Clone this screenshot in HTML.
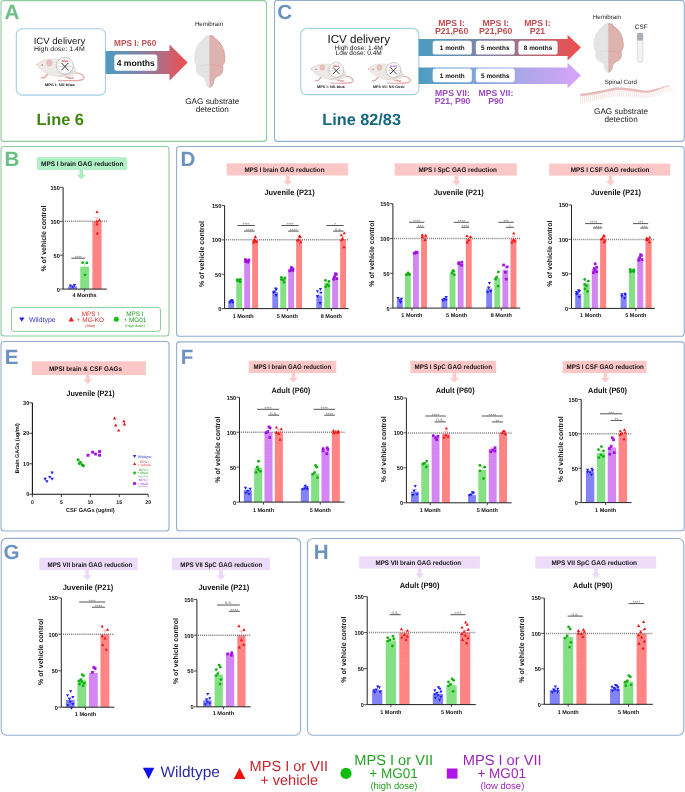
<!DOCTYPE html><html><head><meta charset="utf-8"><style>html,body{margin:0;padding:0;background:#fff;overflow:hidden;width:685px;height:792px;}svg{display:block;will-change:transform;}text{font-family:"Liberation Sans",sans-serif;text-rendering:geometricPrecision;}</style></head><body>
<svg width="685" height="792" viewBox="0 0 685 792">
<rect width="685" height="792" fill="#fff"/>
<defs><pattern id="ptb" width="2.6" height="2.6" patternUnits="userSpaceOnUse"><rect width="2.6" height="2.6" fill="#7a7af5"/><rect x="0.2" y="0.2" width="0.9" height="0.9" fill="#fff" opacity="0.32"/><rect x="1.5" y="1.5" width="0.9" height="0.9" fill="#fff" opacity="0.22"/></pattern><pattern id="ptg" width="2.6" height="2.6" patternUnits="userSpaceOnUse"><rect width="2.6" height="2.6" fill="#7cde7c"/><rect x="0.2" y="0.2" width="0.9" height="0.9" fill="#fff" opacity="0.32"/><rect x="1.5" y="1.5" width="0.9" height="0.9" fill="#fff" opacity="0.22"/></pattern><pattern id="ptp" width="2.6" height="2.6" patternUnits="userSpaceOnUse"><rect width="2.6" height="2.6" fill="#d07ef2"/><rect x="0.2" y="0.2" width="0.9" height="0.9" fill="#fff" opacity="0.32"/><rect x="1.5" y="1.5" width="0.9" height="0.9" fill="#fff" opacity="0.22"/></pattern><pattern id="ptr" width="2.6" height="2.6" patternUnits="userSpaceOnUse"><rect width="2.6" height="2.6" fill="#ff7c7c"/><rect x="0.2" y="0.2" width="0.9" height="0.9" fill="#fff" opacity="0.32"/><rect x="1.5" y="1.5" width="0.9" height="0.9" fill="#fff" opacity="0.22"/></pattern></defs>
<rect x="1" y="0.6" width="265.5" height="140.8" rx="3" fill="none" stroke="#8fcb9b" stroke-width="1.1"/>
<text x="4.5" y="19.1" font-size="20.6" font-weight="bold" fill="#6dbe83" text-anchor="start">A</text>
<rect x="16.3" y="28.7" width="89.2" height="66.4" rx="6" fill="#fff" stroke="#a2cee3" stroke-width="1.1"/>
<text x="59.5" y="44" font-size="9.2" fill="#111" text-anchor="middle" textLength="51.6" lengthAdjust="spacingAndGlyphs">ICV delivery</text>
<text x="59.4" y="50.9" font-size="6.7" fill="#222" text-anchor="middle" textLength="50.8" lengthAdjust="spacingAndGlyphs">High dose: 1.4M</text>
<g transform="translate(36.3,57.8) scale(1)">
<path d="M37,15.2 C44,14.6 48.8,17.8 47.6,20.6 C46.4,23.2 39,23.2 22,22.6" fill="none" stroke="#e2a6a6" stroke-width="1.15" stroke-linecap="round"/>
<path d="M11.5,16.2 L8.2,19.6 L5.2,20.1" fill="none" stroke="#e2a6a6" stroke-width="1.5" stroke-linecap="round" stroke-linejoin="round"/>
<path d="M27.5,17.5 C30,19.8 33,20.8 37,20.3" fill="none" stroke="#e2a6a6" stroke-width="1.6" stroke-linecap="round"/>
<path d="M0.3,6.6 C2,4.5 6,2 11,1.6 C17,0.5 27,1.5 33,5 C38,8 40.5,12 39,15.5 C37,18.5 30,19.5 22,18.8 C15,18 10,16 6,12.5 C3.5,10.5 1,8.5 0.3,6.6 Z" fill="#ece9e7" stroke="#d6cecb" stroke-width="0.5"/>
<path d="M22,18.6 C28,17.5 34,16 38.6,13" fill="none" stroke="#ddd3cf" stroke-width="1.2"/>
<ellipse cx="13" cy="5.2" rx="2.7" ry="3.1" fill="#e6c2bf" stroke="#d6a8a4" stroke-width="0.45"/>
<circle cx="5.9" cy="7.2" r="0.75" fill="#d04848"/>
<circle cx="0.6" cy="6.7" r="0.6" fill="#e49c9c"/>
<circle cx="28.6" cy="7.9" r="8.4" fill="#fbfbfb" stroke="#9c9c9c" stroke-width="0.55"/>
<line x1="21.5" y1="8.6" x2="35.7" y2="8.6" stroke="#b5b5b5" stroke-width="0.5"/>
<path d="M25.3,5.3 L31.9,12.2 M31.9,5.3 L25.3,12.2" stroke="#3a3a3a" stroke-width="1.0" stroke-linecap="round"/>
<text x="28.6" y="4.1" font-size="3.1" font-weight="bold" font-style="italic" fill="#e02020" text-anchor="middle">Idua</text>
</g>
<text x="44.7" y="86.2" font-size="3.6" font-weight="bold" fill="#222" text-anchor="start" textLength="29.9" lengthAdjust="spacingAndGlyphs">MPS I: NS-Idua</text>
<linearGradient id="ga" x1="105.6" y1="0" x2="187.6" y2="0" gradientUnits="userSpaceOnUse"><stop offset="0" stop-color="#4c9cc0"/><stop offset="0.5" stop-color="#8e7fa0"/><stop offset="1" stop-color="#f34b4b"/></linearGradient>
<path d="M105.6,50.9 L169.5,50.9 L169.5,44.4 L187.6,62.6 L169.5,80.8 L169.5,74 L105.6,74 Z" fill="url(#ga)"/>
<rect x="114.3" y="54.6" width="43" height="16.1" rx="2.6" fill="#fff"/>
<text x="135.8" y="65.75" font-size="8.6" font-weight="bold" fill="#111" text-anchor="middle">4 months</text>
<text x="114.1" y="45.9" font-size="8.6" font-weight="bold" fill="#bd5257" text-anchor="start" textLength="42.2" lengthAdjust="spacingAndGlyphs">MPS I: P60</text>
<text x="209" y="26.2" font-size="6.2" fill="#222" text-anchor="middle">Hemibrain</text>
<g transform="translate(193.6,35) scale(1,1.01)">
<path d="M16,0 C19.2,0 21,1 21.2,3 C25.5,5.5 28.8,10 30.6,16 C31.8,21 31.8,25 31,27 C30.5,28.5 29.8,29.2 29.2,29.8 C30,31 30,36 28.5,38 C27.5,39.5 26,40.5 24,41 C21.5,42 20.8,44 20.5,46.5 C20.2,49 18.5,51.5 17.2,52 C16.5,52.3 15.5,52.3 14.8,52 C13.5,51.5 11.8,49 11.5,46.5 C11.2,44 10.5,42 8,41 C6,40.5 4.5,39.5 3.5,38 C2,36 2,31 2.8,29.8 C2.2,29.2 1.5,28.5 1,27 C0.2,25 0.2,21 1.4,16 C3.2,10 6.5,5.5 10.8,3 C11,1 12.8,0 16,0 Z" fill="#e4e4e4"/>
<clipPath id="bclip193"><rect x="16" y="-1" width="17" height="55"/></clipPath>
<path d="M16,0 C19.2,0 21,1 21.2,3 C25.5,5.5 28.8,10 30.6,16 C31.8,21 31.8,25 31,27 C30.5,28.5 29.8,29.2 29.2,29.8 C30,31 30,36 28.5,38 C27.5,39.5 26,40.5 24,41 C21.5,42 20.8,44 20.5,46.5 C20.2,49 18.5,51.5 17.2,52 C16.5,52.3 15.5,52.3 14.8,52 C13.5,51.5 11.8,49 11.5,46.5 C11.2,44 10.5,42 8,41 C6,40.5 4.5,39.5 3.5,38 C2,36 2,31 2.8,29.8 C2.2,29.2 1.5,28.5 1,27 C0.2,25 0.2,21 1.4,16 C3.2,10 6.5,5.5 10.8,3 C11,1 12.8,0 16,0 Z" fill="#ddb3af" clip-path="url(#bclip193)"/>
<path d="M16.3,1.2 C19,1.5 21,2.5 21.2,3.5 C25.5,6 28.8,10 30.4,16 C31.6,22 31.5,27 29.2,29.5 C25,31 19,30.2 16.3,28.8" fill="none" stroke="#e39d9b" stroke-width="0.75"/>
<path d="M16.3,30.2 C21,29.6 27.5,30.2 28.8,33 C29.8,36.8 27,40.3 22,40.9 C19.5,41.3 17.5,41 16.3,40.8" fill="none" stroke="#e3a6a4" stroke-width="0.55"/>
<path d="M18,33 C21,32 24,33 26,35 M17.5,36.5 C20,35.5 23,36.5 24.5,38.5 M19,2.5 C21,4 22,6 22.5,8" fill="none" stroke="#e6b0ae" stroke-width="0.45"/>
<path d="M16.3,41 C19,44 19.5,47 17.2,51.5" fill="none" stroke="#e6b0ae" stroke-width="0.45"/>
<path d="M15.7,28.8 C12,30.3 6,30.8 2.8,29.6 M15.7,40.8 C12,41.3 9,41 8,41" fill="none" stroke="#d6d6d6" stroke-width="0.5"/>
<path d="M13,33 C11,32 8,33 6,35 M14.5,36.5 C12,35.5 9,36.5 7.5,38.5" fill="none" stroke="#dadada" stroke-width="0.4"/>
<line x1="16" y1="0" x2="16" y2="52" stroke="#d4b0ae" stroke-width="0.35"/>
</g>
<text x="212.3" y="103.6" font-size="8.2" fill="#222" text-anchor="middle">GAG substrate</text>
<text x="212.3" y="112" font-size="8.2" fill="#222" text-anchor="middle">detection</text>
<text x="60.3" y="124.7" font-size="16.4" font-weight="bold" fill="#3e870e" text-anchor="middle">Line 6</text>
<rect x="274.5" y="0.5" width="409.8" height="140.9" rx="3" fill="none" stroke="#93aecf" stroke-width="1.1"/>
<text x="277.3" y="19" font-size="20.6" font-weight="bold" fill="#6c93c0" text-anchor="start">C</text>
<rect x="300.7" y="28.5" width="118.2" height="66.1" rx="6" fill="#fff" stroke="#a2cee3" stroke-width="1.1"/>
<text x="358.7" y="43.4" font-size="11.6" fill="#111" text-anchor="middle">ICV delivery</text>
<text x="334.4" y="49.6" font-size="6.6" fill="#222" text-anchor="start" textLength="48.3" lengthAdjust="spacingAndGlyphs">High dose: 1.4M</text>
<text x="335.5" y="55.4" font-size="6.6" fill="#222" text-anchor="start" textLength="46.3" lengthAdjust="spacingAndGlyphs">Low dose: 0.4M</text>
<g transform="translate(310.8,62.9) scale(0.89)">
<path d="M37,15.2 C44,14.6 48.8,17.8 47.6,20.6 C46.4,23.2 39,23.2 22,22.6" fill="none" stroke="#e2a6a6" stroke-width="1.15" stroke-linecap="round"/>
<path d="M11.5,16.2 L8.2,19.6 L5.2,20.1" fill="none" stroke="#e2a6a6" stroke-width="1.5" stroke-linecap="round" stroke-linejoin="round"/>
<path d="M27.5,17.5 C30,19.8 33,20.8 37,20.3" fill="none" stroke="#e2a6a6" stroke-width="1.6" stroke-linecap="round"/>
<path d="M0.3,6.6 C2,4.5 6,2 11,1.6 C17,0.5 27,1.5 33,5 C38,8 40.5,12 39,15.5 C37,18.5 30,19.5 22,18.8 C15,18 10,16 6,12.5 C3.5,10.5 1,8.5 0.3,6.6 Z" fill="#ece9e7" stroke="#d6cecb" stroke-width="0.5"/>
<path d="M22,18.6 C28,17.5 34,16 38.6,13" fill="none" stroke="#ddd3cf" stroke-width="1.2"/>
<ellipse cx="13" cy="5.2" rx="2.7" ry="3.1" fill="#e6c2bf" stroke="#d6a8a4" stroke-width="0.45"/>
<circle cx="5.9" cy="7.2" r="0.75" fill="#d04848"/>
<circle cx="0.6" cy="6.7" r="0.6" fill="#e49c9c"/>
<circle cx="28.6" cy="7.9" r="8.4" fill="#fbfbfb" stroke="#9c9c9c" stroke-width="0.55"/>
<line x1="21.5" y1="8.6" x2="35.7" y2="8.6" stroke="#b5b5b5" stroke-width="0.5"/>
<path d="M25.3,5.3 L31.9,12.2 M31.9,5.3 L25.3,12.2" stroke="#3a3a3a" stroke-width="1.0" stroke-linecap="round"/>
<text x="28.6" y="4.1" font-size="3.1" font-weight="bold" font-style="italic" fill="#e02020" text-anchor="middle">Idua</text>
</g>
<text x="317" y="88.3" font-size="3.6" font-weight="bold" fill="#222" text-anchor="start" textLength="27.7" lengthAdjust="spacingAndGlyphs">MPS I: NS-Idua</text>
<g transform="translate(367.9,62.9) scale(0.89)">
<path d="M37,15.2 C44,14.6 48.8,17.8 47.6,20.6 C46.4,23.2 39,23.2 22,22.6" fill="none" stroke="#e2a6a6" stroke-width="1.15" stroke-linecap="round"/>
<path d="M11.5,16.2 L8.2,19.6 L5.2,20.1" fill="none" stroke="#e2a6a6" stroke-width="1.5" stroke-linecap="round" stroke-linejoin="round"/>
<path d="M27.5,17.5 C30,19.8 33,20.8 37,20.3" fill="none" stroke="#e2a6a6" stroke-width="1.6" stroke-linecap="round"/>
<path d="M0.3,6.6 C2,4.5 6,2 11,1.6 C17,0.5 27,1.5 33,5 C38,8 40.5,12 39,15.5 C37,18.5 30,19.5 22,18.8 C15,18 10,16 6,12.5 C3.5,10.5 1,8.5 0.3,6.6 Z" fill="#ece9e7" stroke="#d6cecb" stroke-width="0.5"/>
<path d="M22,18.6 C28,17.5 34,16 38.6,13" fill="none" stroke="#ddd3cf" stroke-width="1.2"/>
<ellipse cx="13" cy="5.2" rx="2.7" ry="3.1" fill="#e6c2bf" stroke="#d6a8a4" stroke-width="0.45"/>
<circle cx="5.9" cy="7.2" r="0.75" fill="#d04848"/>
<circle cx="0.6" cy="6.7" r="0.6" fill="#e49c9c"/>
<circle cx="28.6" cy="7.9" r="8.4" fill="#fbfbfb" stroke="#9c9c9c" stroke-width="0.55"/>
<line x1="21.5" y1="8.6" x2="35.7" y2="8.6" stroke="#b5b5b5" stroke-width="0.5"/>
<path d="M25.3,5.3 L31.9,12.2 M31.9,5.3 L25.3,12.2" stroke="#3a3a3a" stroke-width="1.0" stroke-linecap="round"/>
<text x="28.6" y="4.1" font-size="3.1" font-weight="bold" font-style="italic" fill="#c040e0" text-anchor="middle">Gusb</text>
</g>
<text x="373" y="88.3" font-size="3.6" font-weight="bold" fill="#222" text-anchor="start" textLength="31.6" lengthAdjust="spacingAndGlyphs">MPS VII: NS-Gusb</text>
<linearGradient id="gc1" x1="418.6" y1="0" x2="580.9" y2="0" gradientUnits="userSpaceOnUse"><stop offset="0" stop-color="#4c9cc0"/><stop offset="0.5" stop-color="#8a7e9c"/><stop offset="1" stop-color="#f34b4b"/></linearGradient>
<path d="M418.6,39.1 L567.6,39.1 L567.6,34.8 L580.9,47.6 L567.6,60.4 L567.6,56 L418.6,56 Z" fill="url(#gc1)"/>
<linearGradient id="gc2" x1="418.6" y1="0" x2="580.9" y2="0" gradientUnits="userSpaceOnUse"><stop offset="0" stop-color="#4c9cc0"/><stop offset="0.5" stop-color="#9aa8e0"/><stop offset="1" stop-color="#d8a4fa"/></linearGradient>
<path d="M418.6,67.6 L567.6,67.6 L567.6,62.7 L580.9,75.45 L567.6,88.2 L567.6,83.9 L418.6,83.9 Z" fill="url(#gc2)"/>
<rect x="432.7" y="40.8" width="39.1" height="13.8" rx="2.6" fill="#fff"/>
<text x="452.25" y="50" font-size="6.4" font-weight="bold" fill="#111" text-anchor="middle">1 month</text>
<rect x="475.8" y="40.8" width="38.9" height="13.8" rx="2.6" fill="#fff"/>
<text x="495.25" y="50" font-size="6.4" font-weight="bold" fill="#111" text-anchor="middle">5 months</text>
<rect x="518.4" y="40.8" width="39.2" height="13.8" rx="2.6" fill="#fff"/>
<text x="538" y="50" font-size="6.4" font-weight="bold" fill="#111" text-anchor="middle">8 months</text>
<rect x="432.7" y="68.4" width="39.1" height="13.8" rx="2.6" fill="#fff"/>
<text x="452.25" y="77.6" font-size="6.4" font-weight="bold" fill="#111" text-anchor="middle">1 month</text>
<rect x="475.8" y="68.4" width="38.9" height="13.8" rx="2.6" fill="#fff"/>
<text x="495.25" y="77.6" font-size="6.4" font-weight="bold" fill="#111" text-anchor="middle">5 months</text>
<text x="451.6" y="25.6" font-size="8.7" font-weight="bold" fill="#bf4b50" text-anchor="middle">MPS I:</text>
<text x="451.6" y="34" font-size="8.7" font-weight="bold" fill="#bf4b50" text-anchor="middle">P21,P60</text>
<text x="495.7" y="25.6" font-size="8.7" font-weight="bold" fill="#bf4b50" text-anchor="middle">MPS I:</text>
<text x="495.7" y="34" font-size="8.7" font-weight="bold" fill="#bf4b50" text-anchor="middle">P21,P60</text>
<text x="537.4" y="25.6" font-size="8.7" font-weight="bold" fill="#bf4b50" text-anchor="middle">MPS I:</text>
<text x="537.4" y="34" font-size="8.7" font-weight="bold" fill="#bf4b50" text-anchor="middle">P21</text>
<text x="452.5" y="96.3" font-size="8.7" font-weight="bold" fill="#9a48c0" text-anchor="middle">MPS VII:</text>
<text x="452.5" y="104.3" font-size="8.7" font-weight="bold" fill="#9a48c0" text-anchor="middle">P21, P90</text>
<text x="495.9" y="96.3" font-size="8.7" font-weight="bold" fill="#9a48c0" text-anchor="middle">MPS VII:</text>
<text x="495.9" y="104.3" font-size="8.7" font-weight="bold" fill="#9a48c0" text-anchor="middle">P90</text>
<text x="361.6" y="124.9" font-size="16.3" font-weight="bold" fill="#14677f" text-anchor="middle">Line 82/83</text>
<text x="606.9" y="18.7" font-size="6.2" fill="#222" text-anchor="middle">Hemibrain</text>
<g transform="translate(592.9,23) scale(0.97,0.95)">
<path d="M16,0 C19.2,0 21,1 21.2,3 C25.5,5.5 28.8,10 30.6,16 C31.8,21 31.8,25 31,27 C30.5,28.5 29.8,29.2 29.2,29.8 C30,31 30,36 28.5,38 C27.5,39.5 26,40.5 24,41 C21.5,42 20.8,44 20.5,46.5 C20.2,49 18.5,51.5 17.2,52 C16.5,52.3 15.5,52.3 14.8,52 C13.5,51.5 11.8,49 11.5,46.5 C11.2,44 10.5,42 8,41 C6,40.5 4.5,39.5 3.5,38 C2,36 2,31 2.8,29.8 C2.2,29.2 1.5,28.5 1,27 C0.2,25 0.2,21 1.4,16 C3.2,10 6.5,5.5 10.8,3 C11,1 12.8,0 16,0 Z" fill="#e4e4e4"/>
<clipPath id="bclip592"><rect x="16" y="-1" width="17" height="55"/></clipPath>
<path d="M16,0 C19.2,0 21,1 21.2,3 C25.5,5.5 28.8,10 30.6,16 C31.8,21 31.8,25 31,27 C30.5,28.5 29.8,29.2 29.2,29.8 C30,31 30,36 28.5,38 C27.5,39.5 26,40.5 24,41 C21.5,42 20.8,44 20.5,46.5 C20.2,49 18.5,51.5 17.2,52 C16.5,52.3 15.5,52.3 14.8,52 C13.5,51.5 11.8,49 11.5,46.5 C11.2,44 10.5,42 8,41 C6,40.5 4.5,39.5 3.5,38 C2,36 2,31 2.8,29.8 C2.2,29.2 1.5,28.5 1,27 C0.2,25 0.2,21 1.4,16 C3.2,10 6.5,5.5 10.8,3 C11,1 12.8,0 16,0 Z" fill="#ddb3af" clip-path="url(#bclip592)"/>
<path d="M16.3,1.2 C19,1.5 21,2.5 21.2,3.5 C25.5,6 28.8,10 30.4,16 C31.6,22 31.5,27 29.2,29.5 C25,31 19,30.2 16.3,28.8" fill="none" stroke="#e39d9b" stroke-width="0.75"/>
<path d="M16.3,30.2 C21,29.6 27.5,30.2 28.8,33 C29.8,36.8 27,40.3 22,40.9 C19.5,41.3 17.5,41 16.3,40.8" fill="none" stroke="#e3a6a4" stroke-width="0.55"/>
<path d="M18,33 C21,32 24,33 26,35 M17.5,36.5 C20,35.5 23,36.5 24.5,38.5 M19,2.5 C21,4 22,6 22.5,8" fill="none" stroke="#e6b0ae" stroke-width="0.45"/>
<path d="M16.3,41 C19,44 19.5,47 17.2,51.5" fill="none" stroke="#e6b0ae" stroke-width="0.45"/>
<path d="M15.7,28.8 C12,30.3 6,30.8 2.8,29.6 M15.7,40.8 C12,41.3 9,41 8,41" fill="none" stroke="#d6d6d6" stroke-width="0.5"/>
<path d="M13,33 C11,32 8,33 6,35 M14.5,36.5 C12,35.5 9,36.5 7.5,38.5" fill="none" stroke="#dadada" stroke-width="0.4"/>
<line x1="16" y1="0" x2="16" y2="52" stroke="#d4b0ae" stroke-width="0.35"/>
</g>
<text x="641.2" y="29.3" font-size="6.4" fill="#222" text-anchor="middle">CSF</text>
<rect x="637.3" y="33" width="5.6" height="29.3" rx="2.8" fill="#f2f2f2" stroke="#c8c8c8" stroke-width="0.6"/>
<rect x="637.1" y="33" width="6" height="7.4" rx="1" fill="#a9b0b6"/>
<text x="620.8" y="83.9" font-size="6.2" fill="#222" text-anchor="middle">Spinal Cord</text>
<path d="M581,95.48 l-0.5,7.5 M582.96,95.32 l-0.5,7.48 M584.91,95.16 l-0.5,7.46 M586.87,94.84 l-0.5,7.43 M588.82,94.52 l-0.5,7.41 M590.78,94.2 l-0.5,7.39 M592.73,93.88 l-0.5,7.37 M594.69,93.55 l-0.5,7.34 M596.64,93.2 l-0.5,7.32 M598.6,92.83 l-0.5,7.3 M600.56,92.44 l-0.5,7.28 M602.51,92.03 l-0.5,7.26 M604.47,91.63 l-0.5,7.23 M606.42,91.22 l-0.5,7.21 M608.38,90.82 l-0.5,7.19 M610.33,90.41 l-0.5,7.17 M612.29,90 l-0.5,7.14 M614.24,89.62 l-0.5,7.12 M616.2,89.35 l-0.5,7.1 M618.16,89.22 l-0.5,7.08 M620.11,89.23 l-0.5,7.06 M622.07,89.38 l-0.5,7.03 M624.02,89.59 l-0.5,7.01 M625.98,89.8 q0.12,4.17 0.58,6.94 M627.93,90.01 q0.15,4.1 0.73,6.83 M629.89,90.22 q0.18,4.03 0.89,6.72 M631.84,90.46 q0.21,3.97 1.04,6.61 M633.8,90.71 q0.24,3.9 1.2,6.5 M635.76,90.99 q0.27,3.83 1.36,6.39 M637.71,91.29 q0.3,3.77 1.51,6.28 M639.67,91.6 q0.33,3.7 1.67,6.17 M641.62,91.92 q0.36,3.63 1.82,6.06 M643.58,92.19 q0.4,3.57 1.98,5.94 M645.53,92.28 q0.43,3.5 2.13,5.83 M647.49,92.19 q0.46,3.43 2.29,5.72 M649.44,91.93 q0.49,3.37 2.44,5.61 M651.4,91.49 q0.52,3.3 2.6,5.5 M653.36,91 q0.55,3.23 2.76,5.39 M655.31,90.5 q0.58,3.17 2.91,5.28 M657.27,89.93 q0.61,3.1 3.07,5.17 M659.22,89.3 q0.64,3.03 3.22,5.06 M661.18,88.6 q0.68,2.97 3.38,4.94 M663.13,87.84 q0.71,2.9 3.53,4.83 M665.09,87.06 q0.74,2.83 3.69,4.72 M667.04,86.67 q0.77,2.77 3.84,4.61 M669,86.28 q0.8,2.7 4,4.5" fill="none" stroke="#e8bcba" stroke-width="0.42"/>
<path d="M581,94.88 L581.98,94.8 L582.96,94.72 L583.93,94.64 L584.91,94.56 L585.89,94.4 L586.87,94.24 L587.84,94.08 L588.82,93.92 L589.8,93.76 L590.78,93.6 L591.76,93.44 L592.73,93.28 L593.71,93.12 L594.69,92.95 L595.67,92.78 L596.64,92.6 L597.62,92.42 L598.6,92.23 L599.58,92.04 L600.56,91.84 L601.53,91.64 L602.51,91.43 L603.49,91.23 L604.47,91.03 L605.44,90.83 L606.42,90.62 L607.4,90.42 L608.38,90.22 L609.36,90.01 L610.33,89.81 L611.31,89.61 L612.29,89.4 L613.27,89.2 L614.24,89.02 L615.22,88.87 L616.2,88.75 L617.18,88.67 L618.16,88.62 L619.13,88.61 L620.11,88.63 L621.09,88.69 L622.07,88.78 L623.04,88.89 L624.02,88.99 L625,89.1 L625.98,89.2 L626.96,89.31 L627.93,89.41 L628.91,89.52 L629.89,89.62 L630.87,89.74 L631.84,89.86 L632.82,89.98 L633.8,90.11 L634.78,90.25 L635.76,90.39 L636.73,90.54 L637.71,90.69 L638.69,90.85" fill="none" stroke="#ecc6c4" stroke-width="2.4" stroke-linecap="round"/>
<path d="M637.71,90.69 L638.69,90.85 L639.67,91 L640.64,91.16 L641.62,91.32 L642.6,91.47 L643.58,91.59 L644.56,91.65 L645.53,91.68 L646.51,91.66 L647.49,91.59 L648.47,91.48 L649.44,91.33 L650.42,91.13 L651.4,90.89 L652.38,90.64 L653.36,90.4" fill="none" stroke="#ecc6c4" stroke-width="2.0" stroke-linecap="round"/>
<path d="M652.38,90.64 L653.36,90.4 L654.33,90.16 L655.31,89.9 L656.29,89.62 L657.27,89.33 L658.24,89.02 L659.22,88.7 L660.2,88.36 L661.18,88 L662.16,87.63 L663.13,87.24" fill="none" stroke="#ecc6c4" stroke-width="1.5" stroke-linecap="round"/>
<path d="M662.16,87.63 L663.13,87.24 L664.11,86.85 L665.09,86.46 L666.07,86.26 L667.04,86.07 L668.02,85.87 L669,85.68" fill="none" stroke="#ecc6c4" stroke-width="1.1" stroke-linecap="round"/>
<path d="M581,94.88 L581.98,94.8 L582.96,94.72 L583.93,94.64 L584.91,94.56 L585.89,94.4 L586.87,94.24 L587.84,94.08 L588.82,93.92 L589.8,93.76 L590.78,93.6 L591.76,93.44 L592.73,93.28 L593.71,93.12 L594.69,92.95 L595.67,92.78 L596.64,92.6 L597.62,92.42 L598.6,92.23 L599.58,92.04 L600.56,91.84 L601.53,91.64 L602.51,91.43 L603.49,91.23 L604.47,91.03 L605.44,90.83 L606.42,90.62 L607.4,90.42 L608.38,90.22 L609.36,90.01 L610.33,89.81 L611.31,89.61 L612.29,89.4 L613.27,89.2 L614.24,89.02 L615.22,88.87 L616.2,88.75 L617.18,88.67 L618.16,88.62 L619.13,88.61 L620.11,88.63 L621.09,88.69 L622.07,88.78 L623.04,88.89 L624.02,88.99 L625,89.1 L625.98,89.2 L626.96,89.31 L627.93,89.41 L628.91,89.52 L629.89,89.62 L630.87,89.74 L631.84,89.86 L632.82,89.98 L633.8,90.11 L634.78,90.25 L635.76,90.39 L636.73,90.54 L637.71,90.69 L638.69,90.85 L639.67,91 L640.64,91.16 L641.62,91.32 L642.6,91.47 L643.58,91.59 L644.56,91.65 L645.53,91.68 L646.51,91.66 L647.49,91.59 L648.47,91.48 L649.44,91.33 L650.42,91.13 L651.4,90.89 L652.38,90.64 L653.36,90.4 L654.33,90.16 L655.31,89.9 L656.29,89.62 L657.27,89.33 L658.24,89.02" fill="none" stroke="#dfaaa8" stroke-width="0.45" transform="translate(0,-0.6)"/>
<path d="M581,94.88 L581.98,94.8 L582.96,94.72 L583.93,94.64 L584.91,94.56 L585.89,94.4 L586.87,94.24 L587.84,94.08 L588.82,93.92 L589.8,93.76 L590.78,93.6 L591.76,93.44 L592.73,93.28 L593.71,93.12 L594.69,92.95 L595.67,92.78 L596.64,92.6 L597.62,92.42 L598.6,92.23 L599.58,92.04 L600.56,91.84 L601.53,91.64 L602.51,91.43 L603.49,91.23 L604.47,91.03 L605.44,90.83 L606.42,90.62 L607.4,90.42 L608.38,90.22 L609.36,90.01 L610.33,89.81 L611.31,89.61 L612.29,89.4 L613.27,89.2 L614.24,89.02 L615.22,88.87 L616.2,88.75 L617.18,88.67 L618.16,88.62 L619.13,88.61 L620.11,88.63 L621.09,88.69 L622.07,88.78 L623.04,88.89 L624.02,88.99 L625,89.1 L625.98,89.2 L626.96,89.31 L627.93,89.41 L628.91,89.52 L629.89,89.62 L630.87,89.74 L631.84,89.86 L632.82,89.98 L633.8,90.11 L634.78,90.25 L635.76,90.39 L636.73,90.54 L637.71,90.69 L638.69,90.85 L639.67,91 L640.64,91.16 L641.62,91.32 L642.6,91.47 L643.58,91.59 L644.56,91.65 L645.53,91.68 L646.51,91.66 L647.49,91.59 L648.47,91.48 L649.44,91.33 L650.42,91.13 L651.4,90.89 L652.38,90.64 L653.36,90.4 L654.33,90.16 L655.31,89.9 L656.29,89.62 L657.27,89.33 L658.24,89.02" fill="none" stroke="#dfaaa8" stroke-width="0.45" transform="translate(0,0.6)"/>
<text x="621.1" y="113.5" font-size="8.2" fill="#222" text-anchor="middle">GAG substrate</text>
<text x="621.1" y="121.8" font-size="8.2" fill="#222" text-anchor="middle">detection</text>
<rect x="1" y="146.5" width="168" height="189.5" rx="3" fill="none" stroke="#8fcb9b" stroke-width="1.1"/>
<text x="4.6" y="165.9" font-size="20.6" font-weight="bold" fill="#6dbe83" text-anchor="start">B</text>
<rect x="36.9" y="157.2" width="90" height="12.7" fill="#aff0c7"/>
<path d="M79.5,169.9 L83.1,169.9 L83.1,174.8 L85.8,174.8 L81.3,179.4 L76.8,174.8 L79.5,174.8 Z" fill="#a8ecbf"/>
<text x="41.1" y="166.1" font-size="6.7" font-weight="bold" fill="#111" text-anchor="start" textLength="82.3" lengthAdjust="spacingAndGlyphs">MPS I brain GAG reduction</text>
<rect x="68.1" y="286.39" width="8.9" height="2.71" fill="url(#ptb)"/>
<rect x="80.2" y="266.7" width="8.9" height="22.4" fill="url(#ptg)"/>
<rect x="92.4" y="221.23" width="9.2" height="67.87" fill="url(#ptr)"/>
<line x1="65" y1="221.23" x2="106.9" y2="221.23" stroke="#7a7a7a" stroke-width="1.5" stroke-dasharray="1 1.05"/>
<path d="M72.55,286.39 L72.55,285.37 M70.06,285.37 L75.04,285.37" stroke="#7a7af5" stroke-width="0.7" opacity="0.75" fill="none"/>
<path d="M68.75,284.43 L71.95,284.43 L70.35,287.23 Z" fill="#1c1cf5"/>
<path d="M72.95,284.09 L76.15,284.09 L74.55,286.89 Z" fill="#1c1cf5"/>
<path d="M70.95,285.78 L74.15,285.78 L72.55,288.58 Z" fill="#1c1cf5"/>
<path d="M84.65,266.7 L84.65,262.69 M82.16,262.69 L87.14,262.69" stroke="#7cde7c" stroke-width="0.7" opacity="0.75" fill="none"/>
<circle cx="82.55" cy="262.63" r="1.4" fill="#10b010"/>
<circle cx="86.85" cy="262.97" r="1.4" fill="#10b010"/>
<circle cx="84.95" cy="274.85" r="1.4" fill="#10b010"/>
<path d="M97,221.23 L97,217.78 M94.42,217.78 L99.58,217.78" stroke="#ff7c7c" stroke-width="0.7" opacity="0.75" fill="none"/>
<path d="M95.4,213.01 L98.6,213.01 L97,210.21 Z" fill="#f01010"/>
<path d="M95.2,222.51 L98.4,222.51 L96.8,219.71 Z" fill="#f01010"/>
<path d="M97.9,221.15 L101.1,221.15 L99.5,218.35 Z" fill="#f01010"/>
<path d="M95.4,225.22 L98.6,225.22 L97,222.42 Z" fill="#f01010"/>
<path d="M95.7,234.39 L98.9,234.39 L97.3,231.59 Z" fill="#f01010"/>
<path d="M63.1,187.3 L63.1,289.1 L106.9,289.1" fill="none" stroke="#222" stroke-width="1"/>
<line x1="60.1" y1="289.1" x2="63.1" y2="289.1" stroke="#222" stroke-width="0.8"/>
<text x="59.8" y="291.55" font-size="5.9" font-weight="bold" fill="#111" text-anchor="end" textLength="3.13" lengthAdjust="spacingAndGlyphs">0</text>
<line x1="60.1" y1="255.17" x2="63.1" y2="255.17" stroke="#222" stroke-width="0.8"/>
<text x="59.8" y="257.62" font-size="5.9" font-weight="bold" fill="#111" text-anchor="end" textLength="6.25" lengthAdjust="spacingAndGlyphs">50</text>
<line x1="60.1" y1="221.23" x2="63.1" y2="221.23" stroke="#222" stroke-width="0.8"/>
<text x="59.8" y="223.68" font-size="5.9" font-weight="bold" fill="#111" text-anchor="end" textLength="9.38" lengthAdjust="spacingAndGlyphs">100</text>
<line x1="60.1" y1="187.3" x2="63.1" y2="187.3" stroke="#222" stroke-width="0.8"/>
<text x="59.8" y="189.75" font-size="5.9" font-weight="bold" fill="#111" text-anchor="end" textLength="9.38" lengthAdjust="spacingAndGlyphs">150</text>
<line x1="84.6" y1="289.1" x2="84.6" y2="291.6" stroke="#222" stroke-width="0.8"/>
<text x="84.6" y="297.2" font-size="5.5" font-weight="bold" fill="#111" text-anchor="middle">4 Months</text>
<text transform="translate(46.4,238.5) rotate(-90)" font-size="7" font-weight="bold" fill="#111" text-anchor="middle">% of vehicle control</text>
<line x1="71.4" y1="258.2" x2="85.2" y2="258.2" stroke="#555" stroke-width="1"/>
<text x="78.3" y="258.9" font-size="4.6" fill="#666" text-anchor="middle">****</text>
<rect x="11.5" y="307.4" width="149.0" height="24" rx="2.5" fill="#fff" stroke="#6cc183" stroke-width="0.8"/>
<path d="M19.2,317.4 L24.4,317.4 L21.8,321.8 Z" fill="#2020e0"/>
<text x="28.9" y="322" font-size="7" fill="#3535c8" text-anchor="start">Wildtype</text>
<path d="M68.5,321.6 L74,321.6 L71.25,316.8 Z" fill="#ee1a1a"/>
<text x="90.4" y="315.5" font-size="6.4" fill="#d82c2c" text-anchor="middle">MPS I</text>
<text x="90.4" y="322.4" font-size="6.4" fill="#d82c2c" text-anchor="middle">+ MG-KO</text>
<text x="90.2" y="327.4" font-size="3.9" fill="#d82c2c" text-anchor="middle" font-style="italic">(Idua)</text>
<circle cx="116.3" cy="319.3" r="2.5" fill="#12c012"/>
<text x="134.9" y="315.5" font-size="6.4" fill="#1e9e1e" text-anchor="middle">MPS I</text>
<text x="134.9" y="322.4" font-size="6.4" fill="#1e9e1e" text-anchor="middle">+ MG01</text>
<text x="135" y="327.4" font-size="3.9" fill="#1e9e1e" text-anchor="middle">(high dose)</text>
<rect x="176.6" y="146.5" width="507.6" height="189.8" rx="2.8" fill="none" stroke="#93aecf" stroke-width="1.1"/>
<text x="180.4" y="166" font-size="20.6" font-weight="bold" fill="#6c93c0" text-anchor="start">D</text>
<rect x="226.7" y="163.3" width="121.5" height="12.2" fill="#fcc7c7"/>
<path d="M286.1,175.5 L289.7,175.5 L289.7,181 L292.4,181 L287.9,185.6 L283.4,181 L286.1,181 Z" fill="#fccccc"/>
<text x="244.4" y="172.2" font-size="6.7" font-weight="bold" fill="#111" text-anchor="start" textLength="80.1" lengthAdjust="spacingAndGlyphs">MPS I brain GAG reduction</text>
<rect x="394.7" y="163.3" width="122.1" height="12.3" fill="#fcc7c7"/>
<path d="M454.6,175.6 L458.2,175.6 L458.2,181 L460.9,181 L456.4,185.6 L451.9,181 L454.6,181 Z" fill="#fccccc"/>
<text x="418.4" y="172.2" font-size="6.7" font-weight="bold" fill="#111" text-anchor="start" textLength="78.6" lengthAdjust="spacingAndGlyphs">MPS I SpC GAG reduction</text>
<rect x="549.2" y="163.6" width="121" height="12" fill="#fcc7c7"/>
<path d="M608.7,175.6 L612.3,175.6 L612.3,181 L615,181 L610.5,185.6 L606,181 L608.7,181 Z" fill="#fccccc"/>
<text x="570.8" y="172.2" font-size="6.7" font-weight="bold" fill="#111" text-anchor="start" textLength="78.6" lengthAdjust="spacingAndGlyphs">MPS I CSF GAG reduction</text>
<text x="264.4" y="195.4" font-size="7.8" font-weight="bold" fill="#111" text-anchor="start" textLength="50.3" lengthAdjust="spacingAndGlyphs">Juvenile (P21)</text>
<text x="433.7" y="195.4" font-size="7.8" font-weight="bold" fill="#111" text-anchor="start" textLength="50.1" lengthAdjust="spacingAndGlyphs">Juvenile (P21)</text>
<text x="590.8" y="195.4" font-size="7.8" font-weight="bold" fill="#111" text-anchor="start" textLength="50.3" lengthAdjust="spacingAndGlyphs">Juvenile (P21)</text>
<rect x="228.3" y="301.73" width="5.9" height="6.87" fill="url(#ptb)"/>
<rect x="236.25" y="280.42" width="5.9" height="28.18" fill="url(#ptg)"/>
<rect x="244.2" y="260.49" width="5.9" height="48.11" fill="url(#ptp)"/>
<rect x="252.15" y="239.87" width="5.9" height="68.73" fill="url(#ptr)"/>
<rect x="272.3" y="292.1" width="5.9" height="16.5" fill="url(#ptb)"/>
<rect x="280.25" y="279.05" width="5.9" height="29.55" fill="url(#ptg)"/>
<rect x="288.2" y="269.42" width="5.9" height="39.18" fill="url(#ptp)"/>
<rect x="296.15" y="239.87" width="5.9" height="68.73" fill="url(#ptr)"/>
<rect x="316.3" y="295.54" width="5.9" height="13.06" fill="url(#ptb)"/>
<rect x="324.25" y="283.17" width="5.9" height="25.43" fill="url(#ptg)"/>
<rect x="332.2" y="276.98" width="5.9" height="31.62" fill="url(#ptp)"/>
<rect x="340.15" y="239.18" width="5.9" height="69.42" fill="url(#ptr)"/>
<line x1="226" y1="239.87" x2="348.7" y2="239.87" stroke="#7a7a7a" stroke-width="1.5" stroke-dasharray="1 1.05"/>
<path d="M231.25,301.73 L231.25,300.7 M229.6,300.7 L232.9,300.7" stroke="#7a7af5" stroke-width="0.7" opacity="0.75" fill="none"/>
<path d="M228.18,301.34 L231.38,301.34 L229.78,304.14 Z" fill="#1c1cf5"/>
<path d="M231.3,301.13 L234.5,301.13 L232.9,303.93 Z" fill="#1c1cf5"/>
<path d="M229.94,299.14 L233.14,299.14 L231.54,301.94 Z" fill="#1c1cf5"/>
<path d="M229.06,300.31 L232.26,300.31 L230.66,303.11 Z" fill="#1c1cf5"/>
<path d="M230.83,299.42 L234.03,299.42 L232.43,302.22 Z" fill="#1c1cf5"/>
<path d="M239.2,280.42 L239.2,279.39 M237.55,279.39 L240.85,279.39" stroke="#7cde7c" stroke-width="0.7" opacity="0.75" fill="none"/>
<circle cx="238.61" cy="280.28" r="1.4" fill="#10b010"/>
<circle cx="240.38" cy="279.39" r="1.4" fill="#10b010"/>
<circle cx="237.43" cy="280.56" r="1.4" fill="#10b010"/>
<circle cx="240.08" cy="281.73" r="1.4" fill="#10b010"/>
<circle cx="237.43" cy="279.73" r="1.4" fill="#10b010"/>
<path d="M247.15,260.49 L247.15,259.46 M245.5,259.46 L248.8,259.46" stroke="#d07ef2" stroke-width="0.7" opacity="0.75" fill="none"/>
<rect x="246.69" y="260.77" width="2.7" height="2.7" fill="#a010e0"/>
<rect x="244.03" y="258.28" width="2.7" height="2.7" fill="#a010e0"/>
<rect x="247.57" y="258.62" width="2.7" height="2.7" fill="#a010e0"/>
<rect x="245.8" y="259.57" width="2.7" height="2.7" fill="#a010e0"/>
<rect x="244.33" y="260.26" width="2.7" height="2.7" fill="#a010e0"/>
<path d="M255.1,239.87 L255.1,238.84 M253.45,238.84 L256.75,238.84" stroke="#ff7c7c" stroke-width="0.7" opacity="0.75" fill="none"/>
<path d="M253.5,242.01 L256.7,242.01 L255.1,239.21 Z" fill="#f01010"/>
<path d="M252.03,243.38 L255.23,243.38 L253.63,240.58 Z" fill="#f01010"/>
<path d="M255.15,242.87 L258.35,242.87 L256.75,240.07 Z" fill="#f01010"/>
<path d="M253.8,237.89 L257,237.89 L255.4,235.09 Z" fill="#f01010"/>
<path d="M252.91,240.81 L256.11,240.81 L254.51,238.01 Z" fill="#f01010"/>
<path d="M275.25,292.1 L275.25,290.95 M273.6,290.95 L276.9,290.95" stroke="#7a7af5" stroke-width="0.7" opacity="0.75" fill="none"/>
<path d="M273.94,287.56 L277.15,287.56 L275.55,290.36 Z" fill="#1c1cf5"/>
<path d="M273.06,290.48 L276.26,290.48 L274.66,293.28 Z" fill="#1c1cf5"/>
<path d="M274.83,288.25 L278.03,288.25 L276.43,291.05 Z" fill="#1c1cf5"/>
<path d="M271.88,291.17 L275.08,291.17 L273.48,293.97 Z" fill="#1c1cf5"/>
<path d="M274.53,294.09 L277.74,294.09 L276.13,296.89 Z" fill="#1c1cf5"/>
<path d="M283.2,279.05 L283.2,278.02 M281.55,278.02 L284.85,278.02" stroke="#7cde7c" stroke-width="0.7" opacity="0.75" fill="none"/>
<circle cx="281.43" cy="279.39" r="1.4" fill="#10b010"/>
<circle cx="284.08" cy="282.31" r="1.4" fill="#10b010"/>
<circle cx="281.43" cy="277.33" r="1.4" fill="#10b010"/>
<circle cx="284.97" cy="278.02" r="1.4" fill="#10b010"/>
<circle cx="283.2" cy="279.91" r="1.4" fill="#10b010"/>
<path d="M291.15,269.42 L291.15,268.39 M289.5,268.39 L292.8,268.39" stroke="#d07ef2" stroke-width="0.7" opacity="0.75" fill="none"/>
<rect x="291.57" y="267.46" width="2.7" height="2.7" fill="#a010e0"/>
<rect x="289.8" y="268.59" width="2.7" height="2.7" fill="#a010e0"/>
<rect x="288.32" y="269.41" width="2.7" height="2.7" fill="#a010e0"/>
<rect x="291.45" y="269.1" width="2.7" height="2.7" fill="#a010e0"/>
<rect x="290.09" y="266.12" width="2.7" height="2.7" fill="#a010e0"/>
<path d="M299.1,239.87 L299.1,238.76 M297.45,238.76 L300.75,238.76" stroke="#ff7c7c" stroke-width="0.7" opacity="0.75" fill="none"/>
<path d="M299.15,243.21 L302.35,243.21 L300.75,240.41 Z" fill="#f01010"/>
<path d="M297.8,237.23 L301,237.23 L299.4,234.43 Z" fill="#f01010"/>
<path d="M296.91,240.74 L300.11,240.74 L298.51,237.94 Z" fill="#f01010"/>
<path d="M298.68,238.06 L301.88,238.06 L300.28,235.26 Z" fill="#f01010"/>
<path d="M295.73,241.56 L298.93,241.56 L297.33,238.76 Z" fill="#f01010"/>
<path d="M319.25,295.54 L319.25,293.09 M317.6,293.09 L320.9,293.09" stroke="#7a7af5" stroke-width="0.7" opacity="0.75" fill="none"/>
<path d="M318.83,288.08 L322.03,288.08 L320.43,290.88 Z" fill="#1c1cf5"/>
<path d="M315.88,295.09 L319.08,295.09 L317.48,297.89 Z" fill="#1c1cf5"/>
<path d="M318.53,302.1 L321.74,302.1 L320.13,304.9 Z" fill="#1c1cf5"/>
<path d="M315.88,290.14 L319.08,290.14 L317.48,292.94 Z" fill="#1c1cf5"/>
<path d="M319.42,291.79 L322.62,291.79 L321.02,294.59 Z" fill="#1c1cf5"/>
<path d="M327.2,283.17 L327.2,281.94 M325.55,281.94 L328.85,281.94" stroke="#7cde7c" stroke-width="0.7" opacity="0.75" fill="none"/>
<circle cx="325.43" cy="280.42" r="1.4" fill="#10b010"/>
<circle cx="328.97" cy="281.52" r="1.4" fill="#10b010"/>
<circle cx="327.2" cy="284.54" r="1.4" fill="#10b010"/>
<circle cx="325.72" cy="286.74" r="1.4" fill="#10b010"/>
<circle cx="328.85" cy="285.92" r="1.4" fill="#10b010"/>
<path d="M335.15,276.98 L335.15,275.88 M333.5,275.88 L336.8,275.88" stroke="#d07ef2" stroke-width="0.7" opacity="0.75" fill="none"/>
<rect x="332.32" y="277.87" width="2.7" height="2.7" fill="#a010e0"/>
<rect x="335.45" y="277.35" width="2.7" height="2.7" fill="#a010e0"/>
<rect x="334.09" y="272.37" width="2.7" height="2.7" fill="#a010e0"/>
<rect x="333.21" y="275.29" width="2.7" height="2.7" fill="#a010e0"/>
<rect x="334.98" y="273.06" width="2.7" height="2.7" fill="#a010e0"/>
<path d="M343.1,239.18 L343.1,236.77 M341.45,236.77 L344.75,236.77" stroke="#ff7c7c" stroke-width="0.7" opacity="0.75" fill="none"/>
<path d="M340.91,239.64 L344.11,239.64 L342.51,236.84 Z" fill="#f01010"/>
<path d="M342.68,234.28 L345.88,234.28 L344.28,231.48 Z" fill="#f01010"/>
<path d="M339.73,241.29 L342.93,241.29 L341.33,238.49 Z" fill="#f01010"/>
<path d="M342.38,248.3 L345.59,248.3 L343.99,245.5 Z" fill="#f01010"/>
<path d="M339.73,236.34 L342.93,236.34 L341.33,233.54 Z" fill="#f01010"/>
<path d="M224.6,205.51 L224.6,308.6 L348.7,308.6" fill="none" stroke="#222" stroke-width="1"/>
<line x1="221.6" y1="308.6" x2="224.6" y2="308.6" stroke="#222" stroke-width="0.8"/>
<text x="221.3" y="311.05" font-size="5.9" font-weight="bold" fill="#111" text-anchor="end" textLength="3.13" lengthAdjust="spacingAndGlyphs">0</text>
<line x1="221.6" y1="274.24" x2="224.6" y2="274.24" stroke="#222" stroke-width="0.8"/>
<text x="221.3" y="276.69" font-size="5.9" font-weight="bold" fill="#111" text-anchor="end" textLength="6.25" lengthAdjust="spacingAndGlyphs">50</text>
<line x1="221.6" y1="239.87" x2="224.6" y2="239.87" stroke="#222" stroke-width="0.8"/>
<text x="221.3" y="242.32" font-size="5.9" font-weight="bold" fill="#111" text-anchor="end" textLength="9.38" lengthAdjust="spacingAndGlyphs">100</text>
<line x1="221.6" y1="205.51" x2="224.6" y2="205.51" stroke="#222" stroke-width="0.8"/>
<text x="221.3" y="207.96" font-size="5.9" font-weight="bold" fill="#111" text-anchor="end" textLength="9.38" lengthAdjust="spacingAndGlyphs">150</text>
<line x1="243.2" y1="308.6" x2="243.2" y2="311.1" stroke="#222" stroke-width="0.8"/>
<text x="243.2" y="317.5" font-size="5.5" font-weight="bold" fill="#111" text-anchor="middle">1 Month</text>
<line x1="287.3" y1="308.6" x2="287.3" y2="311.1" stroke="#222" stroke-width="0.8"/>
<text x="287.3" y="317.5" font-size="5.5" font-weight="bold" fill="#111" text-anchor="middle">5 Month</text>
<line x1="331.3" y1="308.6" x2="331.3" y2="311.1" stroke="#222" stroke-width="0.8"/>
<text x="331.3" y="317.5" font-size="5.5" font-weight="bold" fill="#111" text-anchor="middle">8 Month</text>
<text transform="translate(204.3,254) rotate(-90)" font-size="7" font-weight="bold" fill="#111" text-anchor="middle">% of vehicle control</text>
<line x1="237.4" y1="225.5" x2="254.7" y2="225.5" stroke="#555" stroke-width="1"/>
<text x="246.05" y="226.2" font-size="4.6" fill="#666" text-anchor="middle">****</text>
<line x1="244.1" y1="231.1" x2="254.7" y2="231.1" stroke="#555" stroke-width="1"/>
<text x="249.4" y="231.8" font-size="4.6" fill="#666" text-anchor="middle">****</text>
<line x1="281.4" y1="225.5" x2="298.7" y2="225.5" stroke="#555" stroke-width="1"/>
<text x="290.05" y="226.2" font-size="4.6" fill="#666" text-anchor="middle">****</text>
<line x1="288.1" y1="231.1" x2="298.7" y2="231.1" stroke="#555" stroke-width="1"/>
<text x="293.4" y="231.8" font-size="4.6" fill="#666" text-anchor="middle">****</text>
<line x1="326.4" y1="225.5" x2="343.7" y2="225.5" stroke="#555" stroke-width="1"/>
<text x="335.05" y="226.2" font-size="4.6" fill="#666" text-anchor="middle">*</text>
<line x1="333.1" y1="231.1" x2="343.7" y2="231.1" stroke="#555" stroke-width="1"/>
<text x="338.4" y="230.5" font-size="4.6" fill="#666" text-anchor="middle">n.s.</text>
<rect x="396.8" y="299.75" width="5.9" height="8.35" fill="url(#ptb)"/>
<rect x="404.9" y="274" width="5.9" height="34.1" fill="url(#ptg)"/>
<rect x="413" y="253.12" width="5.9" height="54.98" fill="url(#ptp)"/>
<rect x="421.1" y="236.41" width="5.9" height="71.69" fill="url(#ptr)"/>
<rect x="441.5" y="298.36" width="5.9" height="9.74" fill="url(#ptb)"/>
<rect x="449.6" y="273.3" width="5.9" height="34.8" fill="url(#ptg)"/>
<rect x="457.7" y="263.56" width="5.9" height="44.54" fill="url(#ptp)"/>
<rect x="465.8" y="238.5" width="5.9" height="69.6" fill="url(#ptr)"/>
<rect x="486.2" y="288.61" width="5.9" height="19.49" fill="url(#ptb)"/>
<rect x="494.3" y="278.17" width="5.9" height="29.93" fill="url(#ptg)"/>
<rect x="502.4" y="269.82" width="5.9" height="38.28" fill="url(#ptp)"/>
<rect x="510.5" y="238.5" width="5.9" height="69.6" fill="url(#ptr)"/>
<line x1="394" y1="238.5" x2="520.3" y2="238.5" stroke="#7a7a7a" stroke-width="1.5" stroke-dasharray="1 1.05"/>
<path d="M399.75,299.75 L399.75,298.7 M398.1,298.7 L401.4,298.7" stroke="#7a7af5" stroke-width="0.7" opacity="0.75" fill="none"/>
<path d="M399.03,301.11 L402.24,301.11 L400.63,303.91 Z" fill="#1c1cf5"/>
<path d="M396.38,297.08 L399.58,297.08 L397.98,299.88 Z" fill="#1c1cf5"/>
<path d="M399.92,297.63 L403.12,297.63 L401.52,300.43 Z" fill="#1c1cf5"/>
<path d="M398.15,299.16 L401.35,299.16 L399.75,301.96 Z" fill="#1c1cf5"/>
<path d="M407.85,274 L407.85,272.95 M406.2,272.95 L409.5,272.95" stroke="#7cde7c" stroke-width="0.7" opacity="0.75" fill="none"/>
<circle cx="407.85" cy="274.26" r="1.4" fill="#10b010"/>
<circle cx="406.38" cy="274.67" r="1.4" fill="#10b010"/>
<circle cx="409.5" cy="274.52" r="1.4" fill="#10b010"/>
<circle cx="408.15" cy="273" r="1.4" fill="#10b010"/>
<path d="M415.95,253.12 L415.95,252.07 M414.3,252.07 L417.6,252.07" stroke="#d07ef2" stroke-width="0.7" opacity="0.75" fill="none"/>
<rect x="414.89" y="250.77" width="2.7" height="2.7" fill="#a010e0"/>
<rect x="414.01" y="251.66" width="2.7" height="2.7" fill="#a010e0"/>
<rect x="415.78" y="250.98" width="2.7" height="2.7" fill="#a010e0"/>
<rect x="412.83" y="251.87" width="2.7" height="2.7" fill="#a010e0"/>
<path d="M424.05,236.41 L424.05,235.29 M422.4,235.29 L425.7,235.29" stroke="#ff7c7c" stroke-width="0.7" opacity="0.75" fill="none"/>
<path d="M420.68,238.04 L423.88,238.04 L422.28,235.24 Z" fill="#f01010"/>
<path d="M423.33,241 L426.54,241 L424.94,238.2 Z" fill="#f01010"/>
<path d="M420.68,235.95 L423.88,235.95 L422.28,233.15 Z" fill="#f01010"/>
<path d="M424.22,236.65 L427.42,236.65 L425.82,233.85 Z" fill="#f01010"/>
<path d="M444.45,298.36 L444.45,297.31 M442.8,297.31 L446.1,297.31" stroke="#7a7af5" stroke-width="0.7" opacity="0.75" fill="none"/>
<path d="M444.62,296.03 L447.82,296.03 L446.22,298.83 Z" fill="#1c1cf5"/>
<path d="M442.85,297.95 L446.05,297.95 L444.45,300.75 Z" fill="#1c1cf5"/>
<path d="M441.37,299.34 L444.57,299.34 L442.97,302.14 Z" fill="#1c1cf5"/>
<path d="M444.5,298.82 L447.7,298.82 L446.1,301.62 Z" fill="#1c1cf5"/>
<path d="M452.55,273.3 L452.55,272.26 M450.9,272.26 L454.2,272.26" stroke="#7cde7c" stroke-width="0.7" opacity="0.75" fill="none"/>
<circle cx="454.2" cy="274.69" r="1.4" fill="#10b010"/>
<circle cx="452.85" cy="270.66" r="1.4" fill="#10b010"/>
<circle cx="451.96" cy="273.02" r="1.4" fill="#10b010"/>
<circle cx="453.73" cy="271.21" r="1.4" fill="#10b010"/>
<path d="M460.65,263.56 L460.65,262.51 M459,262.51 L462.3,262.51" stroke="#d07ef2" stroke-width="0.7" opacity="0.75" fill="none"/>
<rect x="460.48" y="260.9" width="2.7" height="2.7" fill="#a010e0"/>
<rect x="457.53" y="262.38" width="2.7" height="2.7" fill="#a010e0"/>
<rect x="460.18" y="263.86" width="2.7" height="2.7" fill="#a010e0"/>
<rect x="457.53" y="261.34" width="2.7" height="2.7" fill="#a010e0"/>
<path d="M468.75,238.5 L468.75,237.04 M467.1,237.04 L470.4,237.04" stroke="#ff7c7c" stroke-width="0.7" opacity="0.75" fill="none"/>
<path d="M465.38,237 L468.58,237 L466.98,234.2 Z" fill="#f01010"/>
<path d="M468.92,238.11 L472.12,238.11 L470.52,235.31 Z" fill="#f01010"/>
<path d="M467.15,241.17 L470.35,241.17 L468.75,238.37 Z" fill="#f01010"/>
<path d="M465.67,243.4 L468.88,243.4 L467.27,240.6 Z" fill="#f01010"/>
<path d="M489.15,288.61 L489.15,286.59 M487.5,286.59 L490.8,286.59" stroke="#7a7af5" stroke-width="0.7" opacity="0.75" fill="none"/>
<path d="M486.07,290.95 L489.27,290.95 L487.67,293.75 Z" fill="#1c1cf5"/>
<path d="M489.2,290.12 L492.4,290.12 L490.8,292.92 Z" fill="#1c1cf5"/>
<path d="M487.84,282.04 L491.05,282.04 L489.44,284.84 Z" fill="#1c1cf5"/>
<path d="M486.96,286.78 L490.16,286.78 L488.56,289.58 Z" fill="#1c1cf5"/>
<path d="M497.25,278.17 L497.25,275.24 M495.6,275.24 L498.9,275.24" stroke="#7cde7c" stroke-width="0.7" opacity="0.75" fill="none"/>
<circle cx="496.66" cy="277.34" r="1.4" fill="#10b010"/>
<circle cx="498.43" cy="271.91" r="1.4" fill="#10b010"/>
<circle cx="495.48" cy="279.01" r="1.4" fill="#10b010"/>
<circle cx="498.13" cy="286.11" r="1.4" fill="#10b010"/>
<path d="M505.35,269.82 L505.35,266.66 M503.7,266.66 L507,266.66" stroke="#d07ef2" stroke-width="0.7" opacity="0.75" fill="none"/>
<rect x="504.88" y="277.73" width="2.7" height="2.7" fill="#a010e0"/>
<rect x="502.23" y="263.6" width="2.7" height="2.7" fill="#a010e0"/>
<rect x="505.77" y="265.55" width="2.7" height="2.7" fill="#a010e0"/>
<rect x="504" y="270.91" width="2.7" height="2.7" fill="#a010e0"/>
<path d="M513.45,238.5 L513.45,236.48 M511.8,236.48 L515.1,236.48" stroke="#ff7c7c" stroke-width="0.7" opacity="0.75" fill="none"/>
<path d="M511.85,241.17 L515.05,241.17 L513.45,238.37 Z" fill="#f01010"/>
<path d="M510.38,243.4 L513.58,243.4 L511.98,240.6 Z" fill="#f01010"/>
<path d="M513.5,242.56 L516.7,242.56 L515.1,239.76 Z" fill="#f01010"/>
<path d="M512.14,234.49 L515.35,234.49 L513.75,231.69 Z" fill="#f01010"/>
<path d="M392.9,203.7 L392.9,308.1 L520.3,308.1" fill="none" stroke="#222" stroke-width="1"/>
<line x1="389.9" y1="308.1" x2="392.9" y2="308.1" stroke="#222" stroke-width="0.8"/>
<text x="389.6" y="310.55" font-size="5.9" font-weight="bold" fill="#111" text-anchor="end" textLength="3.13" lengthAdjust="spacingAndGlyphs">0</text>
<line x1="389.9" y1="273.3" x2="392.9" y2="273.3" stroke="#222" stroke-width="0.8"/>
<text x="389.6" y="275.75" font-size="5.9" font-weight="bold" fill="#111" text-anchor="end" textLength="6.25" lengthAdjust="spacingAndGlyphs">50</text>
<line x1="389.9" y1="238.5" x2="392.9" y2="238.5" stroke="#222" stroke-width="0.8"/>
<text x="389.6" y="240.95" font-size="5.9" font-weight="bold" fill="#111" text-anchor="end" textLength="9.38" lengthAdjust="spacingAndGlyphs">100</text>
<line x1="389.9" y1="203.7" x2="392.9" y2="203.7" stroke="#222" stroke-width="0.8"/>
<text x="389.6" y="206.15" font-size="5.9" font-weight="bold" fill="#111" text-anchor="end" textLength="9.38" lengthAdjust="spacingAndGlyphs">150</text>
<line x1="411.9" y1="308.1" x2="411.9" y2="310.6" stroke="#222" stroke-width="0.8"/>
<text x="411.9" y="317.3" font-size="5.5" font-weight="bold" fill="#111" text-anchor="middle">1 Month</text>
<line x1="456.6" y1="308.1" x2="456.6" y2="310.6" stroke="#222" stroke-width="0.8"/>
<text x="456.6" y="317.3" font-size="5.5" font-weight="bold" fill="#111" text-anchor="middle">5 Month</text>
<line x1="501.3" y1="308.1" x2="501.3" y2="310.6" stroke="#222" stroke-width="0.8"/>
<text x="501.3" y="317.3" font-size="5.5" font-weight="bold" fill="#111" text-anchor="middle">8 Month</text>
<text transform="translate(374.2,253.6) rotate(-90)" font-size="7" font-weight="bold" fill="#111" text-anchor="middle">% of vehicle control</text>
<line x1="409" y1="222.3" x2="424.4" y2="222.3" stroke="#555" stroke-width="1"/>
<text x="416.7" y="223" font-size="4.6" fill="#666" text-anchor="middle">****</text>
<line x1="416.6" y1="227.3" x2="424.4" y2="227.3" stroke="#555" stroke-width="1"/>
<text x="420.5" y="228" font-size="4.6" fill="#666" text-anchor="middle">***</text>
<line x1="453.7" y1="222.3" x2="469.1" y2="222.3" stroke="#555" stroke-width="1"/>
<text x="461.4" y="223" font-size="4.6" fill="#666" text-anchor="middle">****</text>
<line x1="461.3" y1="227.3" x2="469.1" y2="227.3" stroke="#555" stroke-width="1"/>
<text x="465.2" y="228" font-size="4.6" fill="#666" text-anchor="middle">****</text>
<line x1="498.4" y1="222.3" x2="513.8" y2="222.3" stroke="#555" stroke-width="1"/>
<text x="506.1" y="223" font-size="4.6" fill="#666" text-anchor="middle">***</text>
<line x1="506" y1="227.3" x2="513.8" y2="227.3" stroke="#555" stroke-width="1"/>
<text x="509.9" y="228" font-size="4.6" fill="#666" text-anchor="middle">*</text>
<rect x="575.2" y="293.91" width="6.1" height="14.49" fill="url(#ptb)"/>
<rect x="583.5" y="283.56" width="6.1" height="24.84" fill="url(#ptg)"/>
<rect x="591.8" y="269.07" width="6.1" height="39.33" fill="url(#ptp)"/>
<rect x="600.1" y="238.71" width="6.1" height="69.69" fill="url(#ptr)"/>
<rect x="620.6" y="295.98" width="6.1" height="12.42" fill="url(#ptb)"/>
<rect x="628.9" y="270.45" width="6.1" height="37.95" fill="url(#ptg)"/>
<rect x="637.2" y="258.03" width="6.1" height="50.37" fill="url(#ptp)"/>
<rect x="645.5" y="239.4" width="6.1" height="69" fill="url(#ptr)"/>
<line x1="573" y1="239.4" x2="654.8" y2="239.4" stroke="#7a7a7a" stroke-width="1.5" stroke-dasharray="1 1.05"/>
<path d="M578.25,293.91 L578.25,292.88 M576.54,292.88 L579.96,292.88" stroke="#7a7af5" stroke-width="0.7" opacity="0.75" fill="none"/>
<path d="M576.95,289.35 L580.15,289.35 L578.55,292.15 Z" fill="#1c1cf5"/>
<path d="M576.04,292.29 L579.24,292.29 L577.64,295.08 Z" fill="#1c1cf5"/>
<path d="M577.87,290.04 L581.07,290.04 L579.47,292.84 Z" fill="#1c1cf5"/>
<path d="M574.82,292.98 L578.02,292.98 L576.42,295.77 Z" fill="#1c1cf5"/>
<path d="M577.56,295.91 L580.76,295.91 L579.16,298.71 Z" fill="#1c1cf5"/>
<path d="M574.82,290.91 L578.02,290.91 L576.42,293.7 Z" fill="#1c1cf5"/>
<path d="M586.55,283.56 L586.55,281.7 M584.84,281.7 L588.26,281.7" stroke="#7cde7c" stroke-width="0.7" opacity="0.75" fill="none"/>
<circle cx="584.72" cy="284.39" r="1.4" fill="#10b010"/>
<circle cx="587.46" cy="291.43" r="1.4" fill="#10b010"/>
<circle cx="584.72" cy="279.42" r="1.4" fill="#10b010"/>
<circle cx="588.38" cy="281.08" r="1.4" fill="#10b010"/>
<circle cx="586.55" cy="285.63" r="1.4" fill="#10b010"/>
<circle cx="585.02" cy="288.94" r="1.4" fill="#10b010"/>
<path d="M594.85,269.07 L594.85,267.74 M593.14,267.74 L596.56,267.74" stroke="#d07ef2" stroke-width="0.7" opacity="0.75" fill="none"/>
<rect x="595.33" y="266.06" width="2.7" height="2.7" fill="#a010e0"/>
<rect x="593.5" y="269.1" width="2.7" height="2.7" fill="#a010e0"/>
<rect x="591.98" y="271.31" width="2.7" height="2.7" fill="#a010e0"/>
<rect x="595.21" y="270.48" width="2.7" height="2.7" fill="#a010e0"/>
<rect x="593.81" y="262.48" width="2.7" height="2.7" fill="#a010e0"/>
<rect x="592.89" y="267.17" width="2.7" height="2.7" fill="#a010e0"/>
<path d="M603.15,238.71 L603.15,237.67 M601.44,237.67 L604.86,237.67" stroke="#ff7c7c" stroke-width="0.7" opacity="0.75" fill="none"/>
<path d="M603.26,241.72 L606.46,241.72 L604.86,238.91 Z" fill="#f01010"/>
<path d="M601.86,236.71 L605.06,236.71 L603.46,233.91 Z" fill="#f01010"/>
<path d="M600.94,239.64 L604.14,239.64 L602.54,236.84 Z" fill="#f01010"/>
<path d="M602.77,237.4 L605.97,237.4 L604.37,234.6 Z" fill="#f01010"/>
<path d="M599.72,240.33 L602.92,240.33 L601.32,237.53 Z" fill="#f01010"/>
<path d="M602.47,243.27 L605.67,243.27 L604.07,240.47 Z" fill="#f01010"/>
<path d="M623.65,295.98 L623.65,294.94 M621.94,294.94 L625.36,294.94" stroke="#7a7af5" stroke-width="0.7" opacity="0.75" fill="none"/>
<path d="M623.27,292.63 L626.47,292.63 L624.87,295.43 Z" fill="#1c1cf5"/>
<path d="M620.22,294.98 L623.42,294.98 L621.82,297.78 Z" fill="#1c1cf5"/>
<path d="M622.97,297.32 L626.17,297.32 L624.57,300.12 Z" fill="#1c1cf5"/>
<path d="M620.22,293.32 L623.42,293.32 L621.82,296.12 Z" fill="#1c1cf5"/>
<path d="M623.88,293.87 L627.08,293.87 L625.48,296.67 Z" fill="#1c1cf5"/>
<path d="M631.95,270.45 L631.95,269.41 M630.24,269.41 L633.66,269.41" stroke="#7cde7c" stroke-width="0.7" opacity="0.75" fill="none"/>
<circle cx="630.12" cy="269.41" r="1.4" fill="#10b010"/>
<circle cx="633.78" cy="269.83" r="1.4" fill="#10b010"/>
<circle cx="631.95" cy="270.97" r="1.4" fill="#10b010"/>
<circle cx="630.43" cy="271.8" r="1.4" fill="#10b010"/>
<circle cx="633.66" cy="271.48" r="1.4" fill="#10b010"/>
<path d="M640.25,258.03 L640.25,256.92 M638.54,256.92 L641.96,256.92" stroke="#d07ef2" stroke-width="0.7" opacity="0.75" fill="none"/>
<rect x="637.38" y="258.92" width="2.7" height="2.7" fill="#a010e0"/>
<rect x="640.61" y="258.4" width="2.7" height="2.7" fill="#a010e0"/>
<rect x="639.2" y="253.4" width="2.7" height="2.7" fill="#a010e0"/>
<rect x="638.29" y="256.33" width="2.7" height="2.7" fill="#a010e0"/>
<rect x="640.12" y="254.09" width="2.7" height="2.7" fill="#a010e0"/>
<path d="M648.55,239.4 L648.55,238.36 M646.84,238.36 L650.26,238.36" stroke="#ff7c7c" stroke-width="0.7" opacity="0.75" fill="none"/>
<path d="M646.34,240.4 L649.54,240.4 L647.94,237.6 Z" fill="#f01010"/>
<path d="M648.17,238.61 L651.37,238.61 L649.77,235.81 Z" fill="#f01010"/>
<path d="M645.12,240.96 L648.32,240.96 L646.72,238.16 Z" fill="#f01010"/>
<path d="M647.86,243.3 L651.06,243.3 L649.46,240.5 Z" fill="#f01010"/>
<path d="M645.12,239.3 L648.32,239.3 L646.72,236.5 Z" fill="#f01010"/>
<path d="M571.5,204.9 L571.5,308.4 L654.8,308.4" fill="none" stroke="#222" stroke-width="1"/>
<line x1="568.5" y1="308.4" x2="571.5" y2="308.4" stroke="#222" stroke-width="0.8"/>
<text x="568.2" y="310.85" font-size="5.9" font-weight="bold" fill="#111" text-anchor="end" textLength="3.13" lengthAdjust="spacingAndGlyphs">0</text>
<line x1="568.5" y1="273.9" x2="571.5" y2="273.9" stroke="#222" stroke-width="0.8"/>
<text x="568.2" y="276.35" font-size="5.9" font-weight="bold" fill="#111" text-anchor="end" textLength="6.25" lengthAdjust="spacingAndGlyphs">50</text>
<line x1="568.5" y1="239.4" x2="571.5" y2="239.4" stroke="#222" stroke-width="0.8"/>
<text x="568.2" y="241.85" font-size="5.9" font-weight="bold" fill="#111" text-anchor="end" textLength="9.38" lengthAdjust="spacingAndGlyphs">100</text>
<line x1="568.5" y1="204.9" x2="571.5" y2="204.9" stroke="#222" stroke-width="0.8"/>
<text x="568.2" y="207.35" font-size="5.9" font-weight="bold" fill="#111" text-anchor="end" textLength="9.38" lengthAdjust="spacingAndGlyphs">150</text>
<line x1="590.6" y1="308.4" x2="590.6" y2="310.9" stroke="#222" stroke-width="0.8"/>
<text x="590.6" y="317.3" font-size="5.5" font-weight="bold" fill="#111" text-anchor="middle">1 Month</text>
<line x1="635.8" y1="308.4" x2="635.8" y2="310.9" stroke="#222" stroke-width="0.8"/>
<text x="635.8" y="317.3" font-size="5.5" font-weight="bold" fill="#111" text-anchor="middle">5 Month</text>
<text transform="translate(552.1,253.6) rotate(-90)" font-size="7" font-weight="bold" fill="#111" text-anchor="middle">% of vehicle control</text>
<line x1="585.1" y1="223.6" x2="602.2" y2="223.6" stroke="#555" stroke-width="1"/>
<text x="593.65" y="224.3" font-size="4.6" fill="#666" text-anchor="middle">****</text>
<line x1="593" y1="228" x2="602.2" y2="228" stroke="#555" stroke-width="1"/>
<text x="597.6" y="228.7" font-size="4.6" fill="#666" text-anchor="middle">****</text>
<line x1="633" y1="223.6" x2="648.2" y2="223.6" stroke="#555" stroke-width="1"/>
<text x="640.6" y="224.3" font-size="4.6" fill="#666" text-anchor="middle">***</text>
<line x1="640.3" y1="228" x2="648.2" y2="228" stroke="#555" stroke-width="1"/>
<text x="644.25" y="228.7" font-size="4.6" fill="#666" text-anchor="middle">***</text>
<rect x="1" y="341.5" width="168" height="189.5" rx="3" fill="none" stroke="#93aecf" stroke-width="1.1"/>
<text x="4.8" y="363.9" font-size="20.6" font-weight="bold" fill="#6c93c0" text-anchor="start">E</text>
<rect x="31.9" y="361.3" width="114" height="13.8" fill="#fcc7c7"/>
<path d="M85.9,375.1 L89.5,375.1 L89.5,379.5 L92.2,379.5 L87.7,384.1 L83.2,379.5 L85.9,379.5 Z" fill="#fccccc"/>
<text x="49" y="370.6" font-size="6.7" font-weight="bold" fill="#111" text-anchor="start" textLength="72.9" lengthAdjust="spacingAndGlyphs">MPSI brain &amp; CSF GAGs</text>
<text x="66.5" y="396.1" font-size="7.8" font-weight="bold" fill="#111" text-anchor="start" textLength="48.2" lengthAdjust="spacingAndGlyphs">Juvenile (P21)</text>
<path d="M43.46,477.71 L46.82,477.71 L45.14,480.65 Z" fill="#1c1cf5"/>
<path d="M45.2,480.15 L48.55,480.15 L46.88,483.09 Z" fill="#1c1cf5"/>
<path d="M48.09,475.88 L51.45,475.88 L49.77,478.82 Z" fill="#1c1cf5"/>
<path d="M50.41,471.61 L53.77,471.61 L52.09,474.55 Z" fill="#1c1cf5"/>
<path d="M50.41,477.71 L53.77,477.71 L52.09,480.65 Z" fill="#1c1cf5"/>
<circle cx="78.14" cy="459.84" r="1.54" fill="#10b010"/>
<circle cx="79.3" cy="463.5" r="1.54" fill="#10b010"/>
<circle cx="82.19" cy="464.72" r="1.54" fill="#10b010"/>
<circle cx="83.35" cy="465.63" r="1.54" fill="#10b010"/>
<circle cx="80.46" cy="462.28" r="1.54" fill="#10b010"/>
<rect x="86.57" y="453.84" width="2.84" height="2.84" fill="#a010e0"/>
<rect x="91.2" y="450.79" width="2.84" height="2.84" fill="#a010e0"/>
<rect x="94.09" y="452.62" width="2.84" height="2.84" fill="#a010e0"/>
<rect x="98.15" y="450.18" width="2.84" height="2.84" fill="#a010e0"/>
<rect x="98.15" y="453.84" width="2.84" height="2.84" fill="#a010e0"/>
<path d="M112.94,419.39 L116.3,419.39 L114.62,416.45 Z" fill="#f01010"/>
<path d="M114.1,426.41 L117.46,426.41 L115.78,423.47 Z" fill="#f01010"/>
<path d="M116.99,431.59 L120.35,431.59 L118.67,428.65 Z" fill="#f01010"/>
<path d="M122.2,422.44 L125.56,422.44 L123.88,419.5 Z" fill="#f01010"/>
<path d="M122.78,425.49 L126.14,425.49 L124.46,422.55 Z" fill="#f01010"/>
<path d="M32.4,402.8 L32.4,494.3 L148.2,494.3" fill="none" stroke="#111" stroke-width="1.1"/>
<line x1="29.4" y1="494.3" x2="32.4" y2="494.3" stroke="#111" stroke-width="0.8"/>
<text x="29.2" y="496.4" font-size="5.8" font-weight="bold" fill="#111" text-anchor="end" textLength="3.05" lengthAdjust="spacingAndGlyphs">0</text>
<line x1="29.4" y1="463.8" x2="32.4" y2="463.8" stroke="#111" stroke-width="0.8"/>
<text x="29.2" y="465.9" font-size="5.8" font-weight="bold" fill="#111" text-anchor="end" textLength="6.1" lengthAdjust="spacingAndGlyphs">10</text>
<line x1="29.4" y1="433.3" x2="32.4" y2="433.3" stroke="#111" stroke-width="0.8"/>
<text x="29.2" y="435.4" font-size="5.8" font-weight="bold" fill="#111" text-anchor="end" textLength="6.1" lengthAdjust="spacingAndGlyphs">20</text>
<line x1="29.4" y1="402.8" x2="32.4" y2="402.8" stroke="#111" stroke-width="0.8"/>
<text x="29.2" y="404.9" font-size="5.8" font-weight="bold" fill="#111" text-anchor="end" textLength="6.1" lengthAdjust="spacingAndGlyphs">30</text>
<line x1="32.4" y1="494.3" x2="32.4" y2="497.2" stroke="#111" stroke-width="0.8"/>
<text x="32.4" y="503.6" font-size="5.4" font-weight="bold" fill="#111" text-anchor="middle" textLength="2.9" lengthAdjust="spacingAndGlyphs">0</text>
<line x1="61.35" y1="494.3" x2="61.35" y2="497.2" stroke="#111" stroke-width="0.8"/>
<text x="61.35" y="503.6" font-size="5.4" font-weight="bold" fill="#111" text-anchor="middle" textLength="2.9" lengthAdjust="spacingAndGlyphs">5</text>
<line x1="90.3" y1="494.3" x2="90.3" y2="497.2" stroke="#111" stroke-width="0.8"/>
<text x="90.3" y="503.6" font-size="5.4" font-weight="bold" fill="#111" text-anchor="middle" textLength="5.8" lengthAdjust="spacingAndGlyphs">10</text>
<line x1="119.25" y1="494.3" x2="119.25" y2="497.2" stroke="#111" stroke-width="0.8"/>
<text x="119.25" y="503.6" font-size="5.4" font-weight="bold" fill="#111" text-anchor="middle" textLength="5.8" lengthAdjust="spacingAndGlyphs">15</text>
<line x1="148.2" y1="494.3" x2="148.2" y2="497.2" stroke="#111" stroke-width="0.8"/>
<text x="148.2" y="503.6" font-size="5.4" font-weight="bold" fill="#111" text-anchor="middle" textLength="5.8" lengthAdjust="spacingAndGlyphs">20</text>
<text x="90.3" y="512" font-size="5.6" font-weight="bold" fill="#111" text-anchor="middle" textLength="48.6" lengthAdjust="spacingAndGlyphs">CSF GAGs (ug/ml)</text>
<text transform="translate(19.4,448.2) rotate(-90)" font-size="5.4" font-weight="bold" fill="#111" text-anchor="middle">Brain GAGs (ug/ml)</text>
<path d="M133,455.1 L136.2,455.1 L134.6,457.9 Z" fill="#2020f0"/>
<text x="137.8" y="457.8" font-size="3.6" fill="#3a3ad0" text-anchor="start">Wildtype</text>
<path d="M133,465.1 L136.2,465.1 L134.6,462.2 Z" fill="#f01515"/>
<text x="144.2" y="463.2" font-size="3.2" fill="#e03535" text-anchor="middle">MPS I</text>
<text x="144.2" y="466.4" font-size="3.2" fill="#e03535" text-anchor="middle">+ vehicle</text>
<circle cx="134.6" cy="473" r="1.4" fill="#12c012"/>
<text x="143.2" y="470.8" font-size="3.2" fill="#22aa22" text-anchor="middle">MPS I</text>
<text x="143.2" y="474" font-size="3.2" fill="#22aa22" text-anchor="middle">+ MG01</text>
<text x="143.2" y="476.6" font-size="2" fill="#22aa22" text-anchor="middle">(high dose)</text>
<rect x="133" y="482.2" width="3.2" height="2.6" fill="#a516e0"/>
<text x="143.2" y="481.3" font-size="3.2" fill="#a040d0" text-anchor="middle">MPS I</text>
<text x="143.2" y="484.6" font-size="3.2" fill="#a040d0" text-anchor="middle">+ MG01</text>
<text x="143.2" y="487.1" font-size="2" fill="#a040d0" text-anchor="middle">(low dose)</text>
<rect x="176.6" y="341.9" width="507.6" height="188.9" rx="2.8" fill="none" stroke="#93aecf" stroke-width="1.1"/>
<text x="180.8" y="363.7" font-size="20.6" font-weight="bold" fill="#6c93c0" text-anchor="start">F</text>
<rect x="248.7" y="360.8" width="87.6" height="12.3" fill="#fcc7c7"/>
<path d="M291.5,373.1 L295.1,373.1 L295.1,378 L297.8,378 L293.3,382.6 L288.8,378 L291.5,378 Z" fill="#fccccc"/>
<text x="253.4" y="369.3" font-size="6.7" font-weight="bold" fill="#111" text-anchor="start" textLength="77.7" lengthAdjust="spacingAndGlyphs">MPS I brain GAG reduction</text>
<rect x="410.4" y="360.8" width="85.8" height="12.3" fill="#fcc7c7"/>
<path d="M452.6,373.1 L456.2,373.1 L456.2,378 L458.9,378 L454.4,382.6 L449.9,378 L452.6,378 Z" fill="#fccccc"/>
<text x="414.6" y="369.3" font-size="6.7" font-weight="bold" fill="#111" text-anchor="start" textLength="77.4" lengthAdjust="spacingAndGlyphs">MPS I SpC GAG reduction</text>
<rect x="562.7" y="360.8" width="83.8" height="12.3" fill="#fcc7c7"/>
<path d="M603.5,373.1 L607.1,373.1 L607.1,378 L609.8,378 L605.3,382.6 L600.8,378 L603.5,378 Z" fill="#fccccc"/>
<text x="566.6" y="369.3" font-size="6.7" font-weight="bold" fill="#111" text-anchor="start" textLength="77.2" lengthAdjust="spacingAndGlyphs">MPS I CSF GAG reduction</text>
<text x="271.4" y="392.6" font-size="7.8" font-weight="bold" fill="#111" text-anchor="start" textLength="38.9" lengthAdjust="spacingAndGlyphs">Adult (P60)</text>
<text x="435.8" y="392.6" font-size="7.8" font-weight="bold" fill="#111" text-anchor="start" textLength="38.8" lengthAdjust="spacingAndGlyphs">Adult (P60)</text>
<text x="588.1" y="392.6" font-size="7.8" font-weight="bold" fill="#111" text-anchor="start" textLength="38.9" lengthAdjust="spacingAndGlyphs">Adult (P60)</text>
<rect x="243.8" y="490.22" width="8.1" height="11.88" fill="url(#ptb)"/>
<rect x="254.13" y="467.86" width="8.1" height="34.24" fill="url(#ptg)"/>
<rect x="264.46" y="432.23" width="8.1" height="69.87" fill="url(#ptp)"/>
<rect x="274.79" y="431.53" width="8.1" height="70.57" fill="url(#ptr)"/>
<rect x="300.8" y="488.13" width="8.1" height="13.97" fill="url(#ptb)"/>
<rect x="311.13" y="473.45" width="8.1" height="28.65" fill="url(#ptg)"/>
<rect x="321.46" y="450.4" width="8.1" height="51.7" fill="url(#ptp)"/>
<rect x="331.79" y="431.53" width="8.1" height="70.57" fill="url(#ptr)"/>
<line x1="241" y1="432.23" x2="344.6" y2="432.23" stroke="#7a7a7a" stroke-width="1.5" stroke-dasharray="1 1.05"/>
<path d="M247.85,490.22 L247.85,489.07 M245.58,489.07 L250.12,489.07" stroke="#7a7af5" stroke-width="0.7" opacity="0.75" fill="none"/>
<path d="M247.47,492.92 L250.67,492.92 L249.07,495.72 Z" fill="#1c1cf5"/>
<path d="M243.82,486.85 L247.02,486.85 L245.42,489.65 Z" fill="#1c1cf5"/>
<path d="M248.68,487.68 L251.88,487.68 L250.28,490.48 Z" fill="#1c1cf5"/>
<path d="M246.25,489.99 L249.45,489.99 L247.85,492.79 Z" fill="#1c1cf5"/>
<path d="M244.23,491.67 L247.43,491.67 L245.83,494.47 Z" fill="#1c1cf5"/>
<path d="M258.18,467.86 L258.18,465.87 M255.91,465.87 L260.45,465.87" stroke="#7cde7c" stroke-width="0.7" opacity="0.75" fill="none"/>
<circle cx="258.18" cy="469.61" r="1.4" fill="#10b010"/>
<circle cx="256.16" cy="472.41" r="1.4" fill="#10b010"/>
<circle cx="260.45" cy="471.36" r="1.4" fill="#10b010"/>
<circle cx="258.58" cy="461.23" r="1.4" fill="#10b010"/>
<circle cx="257.37" cy="467.17" r="1.4" fill="#10b010"/>
<path d="M268.51,432.23 L268.51,430.34 M266.24,430.34 L270.78,430.34" stroke="#d07ef2" stroke-width="0.7" opacity="0.75" fill="none"/>
<rect x="267.56" y="425.57" width="2.7" height="2.7" fill="#a010e0"/>
<rect x="266.35" y="430.32" width="2.7" height="2.7" fill="#a010e0"/>
<rect x="268.78" y="426.69" width="2.7" height="2.7" fill="#a010e0"/>
<rect x="264.73" y="431.44" width="2.7" height="2.7" fill="#a010e0"/>
<rect x="268.38" y="436.19" width="2.7" height="2.7" fill="#a010e0"/>
<path d="M278.84,431.53 L278.84,429.42 M276.57,429.42 L281.11,429.42" stroke="#ff7c7c" stroke-width="0.7" opacity="0.75" fill="none"/>
<path d="M274.81,433.65 L278.01,433.65 L276.41,430.85 Z" fill="#f01010"/>
<path d="M278.45,440.78 L281.66,440.78 L280.06,437.98 Z" fill="#f01010"/>
<path d="M274.81,428.62 L278.01,428.62 L276.41,425.82 Z" fill="#f01010"/>
<path d="M279.67,430.3 L282.87,430.3 L281.27,427.5 Z" fill="#f01010"/>
<path d="M277.24,434.91 L280.44,434.91 L278.84,432.11 Z" fill="#f01010"/>
<path d="M304.85,488.13 L304.85,487.08 M302.58,487.08 L307.12,487.08" stroke="#7a7af5" stroke-width="0.7" opacity="0.75" fill="none"/>
<path d="M305.68,486.22 L308.88,486.22 L307.28,489.02 Z" fill="#1c1cf5"/>
<path d="M303.25,487.37 L306.45,487.37 L304.85,490.17 Z" fill="#1c1cf5"/>
<path d="M301.23,488.21 L304.43,488.21 L302.83,491.01 Z" fill="#1c1cf5"/>
<path d="M305.52,487.89 L308.72,487.89 L307.12,490.69 Z" fill="#1c1cf5"/>
<path d="M303.65,484.85 L306.86,484.85 L305.25,487.65 Z" fill="#1c1cf5"/>
<path d="M315.18,473.45 L315.18,471.2 M312.91,471.2 L317.45,471.2" stroke="#7cde7c" stroke-width="0.7" opacity="0.75" fill="none"/>
<circle cx="317.45" cy="477.65" r="1.4" fill="#10b010"/>
<circle cx="315.58" cy="465.49" r="1.4" fill="#10b010"/>
<circle cx="314.37" cy="472.61" r="1.4" fill="#10b010"/>
<circle cx="316.8" cy="467.17" r="1.4" fill="#10b010"/>
<circle cx="312.75" cy="474.29" r="1.4" fill="#10b010"/>
<path d="M325.51,450.4 L325.51,449.35 M323.24,449.35 L327.78,449.35" stroke="#d07ef2" stroke-width="0.7" opacity="0.75" fill="none"/>
<rect x="325.78" y="446.43" width="2.7" height="2.7" fill="#a010e0"/>
<rect x="321.73" y="449.4" width="2.7" height="2.7" fill="#a010e0"/>
<rect x="325.38" y="452.37" width="2.7" height="2.7" fill="#a010e0"/>
<rect x="321.73" y="447.3" width="2.7" height="2.7" fill="#a010e0"/>
<rect x="326.59" y="448" width="2.7" height="2.7" fill="#a010e0"/>
<path d="M335.84,431.53 L335.84,430.48 M333.57,430.48 L338.11,430.48" stroke="#ff7c7c" stroke-width="0.7" opacity="0.75" fill="none"/>
<path d="M331.81,431.76 L335.01,431.76 L333.41,428.96 Z" fill="#f01010"/>
<path d="M336.67,432.18 L339.87,432.18 L338.27,429.38 Z" fill="#f01010"/>
<path d="M334.24,433.34 L337.44,433.34 L335.84,430.54 Z" fill="#f01010"/>
<path d="M332.22,434.17 L335.42,434.17 L333.82,431.37 Z" fill="#f01010"/>
<path d="M336.51,433.86 L339.71,433.86 L338.11,431.06 Z" fill="#f01010"/>
<path d="M239.5,397.3 L239.5,502.1 L344.6,502.1" fill="none" stroke="#222" stroke-width="1"/>
<line x1="236.5" y1="502.1" x2="239.5" y2="502.1" stroke="#222" stroke-width="0.8"/>
<text x="236.2" y="504.55" font-size="5.9" font-weight="bold" fill="#111" text-anchor="end" textLength="3.13" lengthAdjust="spacingAndGlyphs">0</text>
<line x1="236.5" y1="467.17" x2="239.5" y2="467.17" stroke="#222" stroke-width="0.8"/>
<text x="236.2" y="469.62" font-size="5.9" font-weight="bold" fill="#111" text-anchor="end" textLength="6.25" lengthAdjust="spacingAndGlyphs">50</text>
<line x1="236.5" y1="432.23" x2="239.5" y2="432.23" stroke="#222" stroke-width="0.8"/>
<text x="236.2" y="434.68" font-size="5.9" font-weight="bold" fill="#111" text-anchor="end" textLength="9.38" lengthAdjust="spacingAndGlyphs">100</text>
<line x1="236.5" y1="397.3" x2="239.5" y2="397.3" stroke="#222" stroke-width="0.8"/>
<text x="236.2" y="399.75" font-size="5.9" font-weight="bold" fill="#111" text-anchor="end" textLength="9.38" lengthAdjust="spacingAndGlyphs">150</text>
<line x1="263.5" y1="502.1" x2="263.5" y2="504.6" stroke="#222" stroke-width="0.8"/>
<text x="263.5" y="511.6" font-size="5.5" font-weight="bold" fill="#111" text-anchor="middle">1 Month</text>
<line x1="320.3" y1="502.1" x2="320.3" y2="504.6" stroke="#222" stroke-width="0.8"/>
<text x="320.3" y="511.6" font-size="5.5" font-weight="bold" fill="#111" text-anchor="middle">5 Month</text>
<text transform="translate(220.1,449.6) rotate(-90)" font-size="7" font-weight="bold" fill="#111" text-anchor="middle">% of vehicle control</text>
<line x1="257" y1="409.3" x2="279.2" y2="409.3" stroke="#555" stroke-width="1"/>
<text x="268.1" y="410" font-size="4.6" fill="#666" text-anchor="middle">****</text>
<line x1="268.2" y1="415.2" x2="279.2" y2="415.2" stroke="#555" stroke-width="1"/>
<text x="273.7" y="414.6" font-size="4.6" fill="#666" text-anchor="middle">n.s.</text>
<line x1="313.7" y1="409.3" x2="334.9" y2="409.3" stroke="#555" stroke-width="1"/>
<text x="324.3" y="410" font-size="4.6" fill="#666" text-anchor="middle">****</text>
<line x1="324.1" y1="415.2" x2="334.9" y2="415.2" stroke="#555" stroke-width="1"/>
<text x="329.5" y="415.9" font-size="4.6" fill="#666" text-anchor="middle">****</text>
<rect x="410.9" y="491.62" width="7.9" height="11.18" fill="url(#ptb)"/>
<rect x="421.27" y="463.66" width="7.9" height="39.14" fill="url(#ptg)"/>
<rect x="431.64" y="437.09" width="7.9" height="65.71" fill="url(#ptp)"/>
<rect x="442.01" y="433.6" width="7.9" height="69.2" fill="url(#ptr)"/>
<rect x="468" y="495.11" width="7.9" height="7.69" fill="url(#ptb)"/>
<rect x="478.37" y="469.95" width="7.9" height="32.85" fill="url(#ptg)"/>
<rect x="488.74" y="448.98" width="7.9" height="53.82" fill="url(#ptp)"/>
<rect x="499.11" y="432.9" width="7.9" height="69.9" fill="url(#ptr)"/>
<line x1="408" y1="432.9" x2="511.6" y2="432.9" stroke="#7a7a7a" stroke-width="1.5" stroke-dasharray="1 1.05"/>
<path d="M414.85,491.62 L414.85,489.59 M412.64,489.59 L417.06,489.59" stroke="#7a7af5" stroke-width="0.7" opacity="0.75" fill="none"/>
<path d="M411.27,493.97 L414.47,493.97 L412.87,496.77 Z" fill="#1c1cf5"/>
<path d="M415.46,493.13 L418.66,493.13 L417.06,495.93 Z" fill="#1c1cf5"/>
<path d="M413.64,485.02 L416.84,485.02 L415.24,487.82 Z" fill="#1c1cf5"/>
<path d="M412.46,489.78 L415.66,489.78 L414.06,492.58 Z" fill="#1c1cf5"/>
<path d="M425.22,463.66 L425.22,462.43 M423.01,462.43 L427.43,462.43" stroke="#7cde7c" stroke-width="0.7" opacity="0.75" fill="none"/>
<circle cx="424.43" cy="463.31" r="1.4" fill="#10b010"/>
<circle cx="426.8" cy="461.03" r="1.4" fill="#10b010"/>
<circle cx="422.85" cy="464.01" r="1.4" fill="#10b010"/>
<circle cx="426.4" cy="466.98" r="1.4" fill="#10b010"/>
<path d="M435.59,437.09 L435.59,436.05 M433.38,436.05 L437.8,436.05" stroke="#d07ef2" stroke-width="0.7" opacity="0.75" fill="none"/>
<rect x="435.42" y="438.4" width="2.7" height="2.7" fill="#a010e0"/>
<rect x="431.87" y="434.35" width="2.7" height="2.7" fill="#a010e0"/>
<rect x="436.61" y="434.91" width="2.7" height="2.7" fill="#a010e0"/>
<rect x="434.24" y="436.44" width="2.7" height="2.7" fill="#a010e0"/>
<path d="M445.96,433.6 L445.96,431.57 M443.75,431.57 L448.17,431.57" stroke="#ff7c7c" stroke-width="0.7" opacity="0.75" fill="none"/>
<path d="M444.36,436.28 L447.56,436.28 L445.96,433.48 Z" fill="#f01010"/>
<path d="M442.38,438.51 L445.58,438.51 L443.98,435.71 Z" fill="#f01010"/>
<path d="M446.57,437.67 L449.77,437.67 L448.17,434.88 Z" fill="#f01010"/>
<path d="M444.75,429.57 L447.95,429.57 L446.35,426.77 Z" fill="#f01010"/>
<path d="M471.95,495.11 L471.95,494.06 M469.74,494.06 L474.16,494.06" stroke="#7a7af5" stroke-width="0.7" opacity="0.75" fill="none"/>
<path d="M470.74,491.17 L473.94,491.17 L472.34,493.97 Z" fill="#1c1cf5"/>
<path d="M469.56,493.55 L472.76,493.55 L471.16,496.35 Z" fill="#1c1cf5"/>
<path d="M471.93,491.73 L475.13,491.73 L473.53,494.53 Z" fill="#1c1cf5"/>
<path d="M467.98,494.11 L471.18,494.11 L469.58,496.91 Z" fill="#1c1cf5"/>
<path d="M482.32,469.95 L482.32,467.03 M480.11,467.03 L484.53,467.03" stroke="#7cde7c" stroke-width="0.7" opacity="0.75" fill="none"/>
<circle cx="479.95" cy="470.86" r="1.4" fill="#10b010"/>
<circle cx="483.5" cy="478.58" r="1.4" fill="#10b010"/>
<circle cx="479.95" cy="465.4" r="1.4" fill="#10b010"/>
<circle cx="484.69" cy="467.22" r="1.4" fill="#10b010"/>
<path d="M492.69,448.98 L492.69,447.93 M490.48,447.93 L494.9,447.93" stroke="#d07ef2" stroke-width="0.7" opacity="0.75" fill="none"/>
<rect x="493.71" y="446.37" width="2.7" height="2.7" fill="#a010e0"/>
<rect x="491.34" y="448.68" width="2.7" height="2.7" fill="#a010e0"/>
<rect x="489.36" y="450.35" width="2.7" height="2.7" fill="#a010e0"/>
<rect x="493.55" y="449.72" width="2.7" height="2.7" fill="#a010e0"/>
<path d="M503.06,432.9 L503.06,431.85 M500.85,431.85 L505.27,431.85" stroke="#ff7c7c" stroke-width="0.7" opacity="0.75" fill="none"/>
<path d="M503.67,435.23 L506.87,435.23 L505.27,432.43 Z" fill="#f01010"/>
<path d="M501.85,432.19 L505.06,432.19 L503.45,429.39 Z" fill="#f01010"/>
<path d="M500.67,433.97 L503.87,433.97 L502.27,431.17 Z" fill="#f01010"/>
<path d="M503.04,432.61 L506.24,432.61 L504.64,429.81 Z" fill="#f01010"/>
<path d="M406.4,397.95 L406.4,502.8 L511.6,502.8" fill="none" stroke="#222" stroke-width="1"/>
<line x1="403.4" y1="502.8" x2="406.4" y2="502.8" stroke="#222" stroke-width="0.8"/>
<text x="403.1" y="505.25" font-size="5.9" font-weight="bold" fill="#111" text-anchor="end" textLength="3.13" lengthAdjust="spacingAndGlyphs">0</text>
<line x1="403.4" y1="467.85" x2="406.4" y2="467.85" stroke="#222" stroke-width="0.8"/>
<text x="403.1" y="470.3" font-size="5.9" font-weight="bold" fill="#111" text-anchor="end" textLength="6.25" lengthAdjust="spacingAndGlyphs">50</text>
<line x1="403.4" y1="432.9" x2="406.4" y2="432.9" stroke="#222" stroke-width="0.8"/>
<text x="403.1" y="435.35" font-size="5.9" font-weight="bold" fill="#111" text-anchor="end" textLength="9.38" lengthAdjust="spacingAndGlyphs">100</text>
<line x1="403.4" y1="397.95" x2="406.4" y2="397.95" stroke="#222" stroke-width="0.8"/>
<text x="403.1" y="400.4" font-size="5.9" font-weight="bold" fill="#111" text-anchor="end" textLength="9.38" lengthAdjust="spacingAndGlyphs">150</text>
<line x1="430.2" y1="502.8" x2="430.2" y2="505.3" stroke="#222" stroke-width="0.8"/>
<text x="430.2" y="511.6" font-size="5.5" font-weight="bold" fill="#111" text-anchor="middle">1 Month</text>
<line x1="487.3" y1="502.8" x2="487.3" y2="505.3" stroke="#222" stroke-width="0.8"/>
<text x="487.3" y="511.6" font-size="5.5" font-weight="bold" fill="#111" text-anchor="middle">5 Month</text>
<text transform="translate(385.6,449.3) rotate(-90)" font-size="7" font-weight="bold" fill="#111" text-anchor="middle">% of vehicle control</text>
<line x1="425.2" y1="416" x2="445.7" y2="416" stroke="#555" stroke-width="1"/>
<text x="435.45" y="416.7" font-size="4.6" fill="#666" text-anchor="middle">****</text>
<line x1="434.4" y1="421.9" x2="445.7" y2="421.9" stroke="#555" stroke-width="1"/>
<text x="440.05" y="421.3" font-size="4.6" fill="#666" text-anchor="middle">n.s.</text>
<line x1="481.9" y1="416" x2="502.9" y2="416" stroke="#555" stroke-width="1"/>
<text x="492.4" y="416.7" font-size="4.6" fill="#666" text-anchor="middle">****</text>
<line x1="491.8" y1="421.9" x2="502.9" y2="421.9" stroke="#555" stroke-width="1"/>
<text x="497.35" y="422.6" font-size="4.6" fill="#666" text-anchor="middle">**</text>
<rect x="585.9" y="471.64" width="8.4" height="30.96" fill="url(#ptb)"/>
<rect x="596.8" y="453.06" width="8.4" height="49.54" fill="url(#ptg)"/>
<rect x="607.7" y="447.56" width="8.4" height="55.04" fill="url(#ptp)"/>
<rect x="618.6" y="433.8" width="8.4" height="68.8" fill="url(#ptr)"/>
<line x1="583" y1="433.8" x2="631.6" y2="433.8" stroke="#7a7a7a" stroke-width="1.5" stroke-dasharray="1 1.05"/>
<path d="M590.1,471.64 L590.1,470.61 M587.75,470.61 L592.45,470.61" stroke="#7a7af5" stroke-width="0.7" opacity="0.75" fill="none"/>
<path d="M590.18,467.78 L593.38,467.78 L591.78,470.58 Z" fill="#1c1cf5"/>
<path d="M585.98,470.7 L589.18,470.7 L587.58,473.5 Z" fill="#1c1cf5"/>
<path d="M589.76,473.63 L592.96,473.63 L591.36,476.43 Z" fill="#1c1cf5"/>
<path d="M585.98,468.64 L589.18,468.64 L587.58,471.44 Z" fill="#1c1cf5"/>
<path d="M591.02,469.33 L594.22,469.33 L592.62,472.13 Z" fill="#1c1cf5"/>
<path d="M588.5,471.22 L591.7,471.22 L590.1,474.02 Z" fill="#1c1cf5"/>
<path d="M601,453.06 L601,451.31 M598.65,451.31 L603.35,451.31" stroke="#7cde7c" stroke-width="0.7" opacity="0.75" fill="none"/>
<circle cx="598.48" cy="449.62" r="1.4" fill="#10b010"/>
<circle cx="603.52" cy="451" r="1.4" fill="#10b010"/>
<circle cx="601" cy="454.78" r="1.4" fill="#10b010"/>
<circle cx="598.9" cy="457.54" r="1.4" fill="#10b010"/>
<circle cx="603.35" cy="456.5" r="1.4" fill="#10b010"/>
<circle cx="601.42" cy="446.53" r="1.4" fill="#10b010"/>
<path d="M611.9,447.56 L611.9,444.82 M609.55,444.82 L614.25,444.82" stroke="#d07ef2" stroke-width="0.7" opacity="0.75" fill="none"/>
<rect x="608.45" y="452.92" width="2.7" height="2.7" fill="#a010e0"/>
<rect x="612.9" y="451.37" width="2.7" height="2.7" fill="#a010e0"/>
<rect x="610.97" y="436.41" width="2.7" height="2.7" fill="#a010e0"/>
<rect x="609.71" y="445.18" width="2.7" height="2.7" fill="#a010e0"/>
<rect x="612.23" y="438.47" width="2.7" height="2.7" fill="#a010e0"/>
<rect x="608.03" y="447.24" width="2.7" height="2.7" fill="#a010e0"/>
<path d="M622.8,433.8 L622.8,432.46 M620.45,432.46 L625.15,432.46" stroke="#ff7c7c" stroke-width="0.7" opacity="0.75" fill="none"/>
<path d="M620.36,434.53 L623.56,434.53 L621.96,431.73 Z" fill="#f01010"/>
<path d="M622.88,430.95 L626.08,430.95 L624.48,428.15 Z" fill="#f01010"/>
<path d="M618.68,435.63 L621.88,435.63 L620.28,432.83 Z" fill="#f01010"/>
<path d="M622.46,440.31 L625.66,440.31 L624.06,437.51 Z" fill="#f01010"/>
<path d="M618.68,432.33 L621.88,432.33 L620.28,429.53 Z" fill="#f01010"/>
<path d="M623.72,433.43 L626.92,433.43 L625.32,430.63 Z" fill="#f01010"/>
<path d="M581.2,399.4 L581.2,502.6 L631.6,502.6" fill="none" stroke="#222" stroke-width="1"/>
<line x1="578.2" y1="502.6" x2="581.2" y2="502.6" stroke="#222" stroke-width="0.8"/>
<text x="577.9" y="505.05" font-size="5.9" font-weight="bold" fill="#111" text-anchor="end" textLength="3.13" lengthAdjust="spacingAndGlyphs">0</text>
<line x1="578.2" y1="468.2" x2="581.2" y2="468.2" stroke="#222" stroke-width="0.8"/>
<text x="577.9" y="470.65" font-size="5.9" font-weight="bold" fill="#111" text-anchor="end" textLength="6.25" lengthAdjust="spacingAndGlyphs">50</text>
<line x1="578.2" y1="433.8" x2="581.2" y2="433.8" stroke="#222" stroke-width="0.8"/>
<text x="577.9" y="436.25" font-size="5.9" font-weight="bold" fill="#111" text-anchor="end" textLength="9.38" lengthAdjust="spacingAndGlyphs">100</text>
<line x1="578.2" y1="399.4" x2="581.2" y2="399.4" stroke="#222" stroke-width="0.8"/>
<text x="577.9" y="401.85" font-size="5.9" font-weight="bold" fill="#111" text-anchor="end" textLength="9.38" lengthAdjust="spacingAndGlyphs">150</text>
<line x1="605.6" y1="502.6" x2="605.6" y2="505.1" stroke="#222" stroke-width="0.8"/>
<text x="605.6" y="511.6" font-size="5.5" font-weight="bold" fill="#111" text-anchor="middle">1 Month</text>
<text transform="translate(562.6,449.3) rotate(-90)" font-size="7" font-weight="bold" fill="#111" text-anchor="middle">% of vehicle control</text>
<line x1="600.1" y1="413.8" x2="622.4" y2="413.8" stroke="#555" stroke-width="1"/>
<text x="611.25" y="414.5" font-size="4.6" fill="#666" text-anchor="middle">***</text>
<line x1="610.6" y1="420.4" x2="622.4" y2="420.4" stroke="#555" stroke-width="1"/>
<text x="616.5" y="421.1" font-size="4.6" fill="#666" text-anchor="middle">**</text>
<rect x="1.2" y="538.4" width="299.4" height="196.8" rx="5.5" fill="none" stroke="#93aecf" stroke-width="1.1"/>
<text x="3.4" y="558.5" font-size="20.6" font-weight="bold" fill="#6c93c0" text-anchor="start">G</text>
<rect x="39.3" y="557.8" width="98.4" height="12.3" fill="#ecdcfa"/>
<path d="M85.3,570.1 L88.9,570.1 L88.9,575.3 L91.6,575.3 L87.1,579.9 L82.6,575.3 L85.3,575.3 Z" fill="#ecd8fa"/>
<text x="47.6" y="566.7" font-size="6.7" font-weight="bold" fill="#111" text-anchor="start" textLength="84.7" lengthAdjust="spacingAndGlyphs">MPS VII brain GAG reduction</text>
<rect x="171.8" y="557.8" width="98.1" height="12.3" fill="#ecdcfa"/>
<path d="M219.1,570.1 L222.7,570.1 L222.7,575.3 L225.4,575.3 L220.9,579.9 L216.4,575.3 L219.1,575.3 Z" fill="#ecd8fa"/>
<text x="180.3" y="566.7" font-size="6.7" font-weight="bold" fill="#111" text-anchor="start" textLength="81.9" lengthAdjust="spacingAndGlyphs">MPS VII SpC GAG reduction</text>
<text x="62.7" y="589.6" font-size="7.8" font-weight="bold" fill="#111" text-anchor="start" textLength="50.5" lengthAdjust="spacingAndGlyphs">Juvenile (P21)</text>
<text x="198.4" y="589.6" font-size="7.8" font-weight="bold" fill="#111" text-anchor="start" textLength="50.8" lengthAdjust="spacingAndGlyphs">Juvenile (P21)</text>
<rect x="65.8" y="699.91" width="8.9" height="7.29" fill="url(#ptb)"/>
<rect x="77.35" y="680.23" width="8.9" height="26.97" fill="url(#ptg)"/>
<rect x="88.9" y="672.94" width="8.9" height="34.26" fill="url(#ptp)"/>
<rect x="100.45" y="634.3" width="8.9" height="72.9" fill="url(#ptr)"/>
<line x1="63" y1="634.3" x2="114.5" y2="634.3" stroke="#7a7a7a" stroke-width="1.5" stroke-dasharray="1 1.05"/>
<path d="M70.25,699.91 L70.25,697.93 M67.76,697.93 L72.74,697.93" stroke="#7a7af5" stroke-width="0.7" opacity="0.75" fill="none"/>
<path d="M69.98,706.94 L73.18,706.94 L71.58,709.74 Z" fill="#1c1cf5"/>
<path d="M65.98,694.26 L69.18,694.26 L67.58,697.06 Z" fill="#1c1cf5"/>
<path d="M71.32,696.01 L74.52,696.01 L72.92,698.81 Z" fill="#1c1cf5"/>
<path d="M68.65,700.82 L71.85,700.82 L70.25,703.62 Z" fill="#1c1cf5"/>
<path d="M66.43,704.32 L69.62,704.32 L68.03,707.12 Z" fill="#1c1cf5"/>
<path d="M71.14,703 L74.34,703 L72.74,705.8 Z" fill="#1c1cf5"/>
<path d="M69.09,690.32 L72.29,690.32 L70.69,693.12 Z" fill="#1c1cf5"/>
<path d="M67.76,697.76 L70.96,697.76 L69.36,700.56 Z" fill="#1c1cf5"/>
<path d="M81.8,680.23 L81.8,678.86 M79.31,678.86 L84.29,678.86" stroke="#7cde7c" stroke-width="0.7" opacity="0.75" fill="none"/>
<circle cx="81.8" cy="681.69" r="1.4" fill="#10b010"/>
<circle cx="79.58" cy="684.02" r="1.4" fill="#10b010"/>
<circle cx="84.29" cy="683.14" r="1.4" fill="#10b010"/>
<circle cx="82.24" cy="674.69" r="1.4" fill="#10b010"/>
<circle cx="80.91" cy="679.64" r="1.4" fill="#10b010"/>
<circle cx="83.58" cy="675.85" r="1.4" fill="#10b010"/>
<circle cx="79.13" cy="680.81" r="1.4" fill="#10b010"/>
<circle cx="83.13" cy="685.77" r="1.4" fill="#10b010"/>
<path d="M93.35,672.94 L93.35,671.44 M90.86,671.44 L95.84,671.44" stroke="#d07ef2" stroke-width="0.7" opacity="0.75" fill="none"/>
<rect x="92.45" y="666.05" width="2.7" height="2.7" fill="#a010e0"/>
<rect x="91.11" y="671" width="2.7" height="2.7" fill="#a010e0"/>
<rect x="93.78" y="667.21" width="2.7" height="2.7" fill="#a010e0"/>
<path d="M104.9,634.3 L104.9,630.69 M102.41,630.69 L107.39,630.69" stroke="#ff7c7c" stroke-width="0.7" opacity="0.75" fill="none"/>
<path d="M100.63,637.18 L103.83,637.18 L102.23,634.38 Z" fill="#f01010"/>
<path d="M104.64,650.82 L107.83,650.82 L106.23,648.02 Z" fill="#f01010"/>
<path d="M100.63,627.56 L103.83,627.56 L102.23,624.76 Z" fill="#f01010"/>
<path d="M105.97,630.77 L109.17,630.77 L107.57,627.97 Z" fill="#f01010"/>
<path d="M103.3,639.59 L106.5,639.59 L104.9,636.79 Z" fill="#f01010"/>
<path d="M101.08,646 L104.28,646 L102.68,643.2 Z" fill="#f01010"/>
<path d="M61.3,597.85 L61.3,707.2 L114.5,707.2" fill="none" stroke="#222" stroke-width="1"/>
<line x1="58.3" y1="707.2" x2="61.3" y2="707.2" stroke="#222" stroke-width="0.8"/>
<text x="58" y="709.65" font-size="5.9" font-weight="bold" fill="#111" text-anchor="end" textLength="3.13" lengthAdjust="spacingAndGlyphs">0</text>
<line x1="58.3" y1="670.75" x2="61.3" y2="670.75" stroke="#222" stroke-width="0.8"/>
<text x="58" y="673.2" font-size="5.9" font-weight="bold" fill="#111" text-anchor="end" textLength="6.25" lengthAdjust="spacingAndGlyphs">50</text>
<line x1="58.3" y1="634.3" x2="61.3" y2="634.3" stroke="#222" stroke-width="0.8"/>
<text x="58" y="636.75" font-size="5.9" font-weight="bold" fill="#111" text-anchor="end" textLength="9.38" lengthAdjust="spacingAndGlyphs">100</text>
<line x1="58.3" y1="597.85" x2="61.3" y2="597.85" stroke="#222" stroke-width="0.8"/>
<text x="58" y="600.3" font-size="5.9" font-weight="bold" fill="#111" text-anchor="end" textLength="9.38" lengthAdjust="spacingAndGlyphs">150</text>
<line x1="85.5" y1="707.2" x2="85.5" y2="709.7" stroke="#222" stroke-width="0.8"/>
<text x="85.5" y="715.8" font-size="5.6" font-weight="bold" fill="#111" text-anchor="middle">1 Month</text>
<text transform="translate(42.9,651.9) rotate(-90)" font-size="7" font-weight="bold" fill="#111" text-anchor="middle">% of vehicle control</text>
<line x1="79.2" y1="602" x2="105" y2="602" stroke="#555" stroke-width="1"/>
<text x="92.1" y="602.7" font-size="4.6" fill="#666" text-anchor="middle">****</text>
<line x1="92" y1="607.2" x2="105" y2="607.2" stroke="#555" stroke-width="1"/>
<text x="98.5" y="607.9" font-size="4.6" fill="#666" text-anchor="middle">****</text>
<rect x="203.2" y="700.36" width="8.3" height="6.44" fill="url(#ptb)"/>
<rect x="214.57" y="674.58" width="8.3" height="32.22" fill="url(#ptg)"/>
<rect x="225.94" y="653.82" width="8.3" height="52.98" fill="url(#ptp)"/>
<rect x="237.31" y="635.2" width="8.3" height="71.6" fill="url(#ptr)"/>
<line x1="198" y1="635.2" x2="250.7" y2="635.2" stroke="#7a7a7a" stroke-width="1.5" stroke-dasharray="1 1.05"/>
<path d="M207.35,700.36 L207.35,698.81 M205.03,698.81 L209.67,698.81" stroke="#7a7af5" stroke-width="0.7" opacity="0.75" fill="none"/>
<path d="M208.24,697.14 L211.44,697.14 L209.84,699.94 Z" fill="#1c1cf5"/>
<path d="M205.75,700.69 L208.95,700.69 L207.35,703.49 Z" fill="#1c1cf5"/>
<path d="M203.68,703.26 L206.88,703.26 L205.28,706.06 Z" fill="#1c1cf5"/>
<path d="M208.07,702.3 L211.27,702.3 L209.67,705.1 Z" fill="#1c1cf5"/>
<path d="M206.16,692.95 L209.36,692.95 L207.76,695.75 Z" fill="#1c1cf5"/>
<path d="M204.92,698.43 L208.12,698.43 L206.52,701.23 Z" fill="#1c1cf5"/>
<path d="M218.72,674.58 L218.72,671.99 M216.4,671.99 L221.04,671.99" stroke="#7cde7c" stroke-width="0.7" opacity="0.75" fill="none"/>
<circle cx="221.04" cy="679.59" r="1.4" fill="#10b010"/>
<circle cx="219.13" cy="665.06" r="1.4" fill="#10b010"/>
<circle cx="217.89" cy="673.58" r="1.4" fill="#10b010"/>
<circle cx="220.38" cy="667.06" r="1.4" fill="#10b010"/>
<circle cx="216.23" cy="675.58" r="1.4" fill="#10b010"/>
<circle cx="219.97" cy="684.1" r="1.4" fill="#10b010"/>
<circle cx="216.23" cy="669.57" r="1.4" fill="#10b010"/>
<path d="M230.09,653.82 L230.09,652.74 M227.77,652.74 L232.41,652.74" stroke="#d07ef2" stroke-width="0.7" opacity="0.75" fill="none"/>
<rect x="230.4" y="651.39" width="2.7" height="2.7" fill="#a010e0"/>
<rect x="226.25" y="652.61" width="2.7" height="2.7" fill="#a010e0"/>
<rect x="229.99" y="653.83" width="2.7" height="2.7" fill="#a010e0"/>
<path d="M241.46,635.2 L241.46,631.03 M239.14,631.03 L243.78,631.03" stroke="#ff7c7c" stroke-width="0.7" opacity="0.75" fill="none"/>
<path d="M237.37,627.17 L240.57,627.17 L238.97,624.37 Z" fill="#f01010"/>
<path d="M242.35,630.9 L245.55,630.9 L243.95,628.1 Z" fill="#f01010"/>
<path d="M239.86,641.13 L243.06,641.13 L241.46,638.33 Z" fill="#f01010"/>
<path d="M237.79,648.58 L240.99,648.58 L239.39,645.78 Z" fill="#f01010"/>
<path d="M242.18,645.79 L245.38,645.79 L243.78,642.99 Z" fill="#f01010"/>
<path d="M196.9,599.4 L196.9,706.8 L250.7,706.8" fill="none" stroke="#222" stroke-width="1"/>
<line x1="193.9" y1="706.8" x2="196.9" y2="706.8" stroke="#222" stroke-width="0.8"/>
<text x="193.6" y="709.25" font-size="5.9" font-weight="bold" fill="#111" text-anchor="end" textLength="3.13" lengthAdjust="spacingAndGlyphs">0</text>
<line x1="193.9" y1="671" x2="196.9" y2="671" stroke="#222" stroke-width="0.8"/>
<text x="193.6" y="673.45" font-size="5.9" font-weight="bold" fill="#111" text-anchor="end" textLength="6.25" lengthAdjust="spacingAndGlyphs">50</text>
<line x1="193.9" y1="635.2" x2="196.9" y2="635.2" stroke="#222" stroke-width="0.8"/>
<text x="193.6" y="637.65" font-size="5.9" font-weight="bold" fill="#111" text-anchor="end" textLength="9.38" lengthAdjust="spacingAndGlyphs">100</text>
<line x1="193.9" y1="599.4" x2="196.9" y2="599.4" stroke="#222" stroke-width="0.8"/>
<text x="193.6" y="601.85" font-size="5.9" font-weight="bold" fill="#111" text-anchor="end" textLength="9.38" lengthAdjust="spacingAndGlyphs">150</text>
<line x1="223.4" y1="706.8" x2="223.4" y2="709.3" stroke="#222" stroke-width="0.8"/>
<text x="223.4" y="714.8" font-size="5.6" font-weight="bold" fill="#111" text-anchor="middle">1 Month</text>
<text transform="translate(178.2,651) rotate(-90)" font-size="7" font-weight="bold" fill="#111" text-anchor="middle">% of vehicle control</text>
<line x1="217.1" y1="605" x2="239.8" y2="605" stroke="#555" stroke-width="1"/>
<text x="228.45" y="604.4" font-size="4.6" fill="#666" text-anchor="middle">n.s.</text>
<line x1="229" y1="611.3" x2="239.8" y2="611.3" stroke="#555" stroke-width="1"/>
<text x="234.4" y="612" font-size="4.6" fill="#666" text-anchor="middle">****</text>
<rect x="307.4" y="538.5" width="376.4" height="196.8" rx="5.5" fill="none" stroke="#93aecf" stroke-width="1.1"/>
<text x="313.8" y="559" font-size="20.6" font-weight="bold" fill="#6c93c0" text-anchor="start">H</text>
<rect x="359.2" y="556.3" width="120.7" height="12.3" fill="#ecdcfa"/>
<path d="M417.7,568.6 L421.3,568.6 L421.3,573.5 L424,573.5 L419.5,578.1 L415,573.5 L417.7,573.5 Z" fill="#ecd8fa"/>
<text x="375.5" y="564.8" font-size="6.7" font-weight="bold" fill="#111" text-anchor="start" textLength="85.6" lengthAdjust="spacingAndGlyphs">MPS VII brain GAG reduction</text>
<rect x="535.3" y="556.3" width="120.9" height="12.3" fill="#ecdcfa"/>
<path d="M594.2,568.6 L597.8,568.6 L597.8,573.5 L600.5,573.5 L596,578.1 L591.5,573.5 L594.2,573.5 Z" fill="#ecd8fa"/>
<text x="551.4" y="564.8" font-size="6.7" font-weight="bold" fill="#111" text-anchor="start" textLength="85.6" lengthAdjust="spacingAndGlyphs">MPS VII SpC GAG reduction</text>
<text x="399.7" y="587.6" font-size="7.8" font-weight="bold" fill="#111" text-anchor="start" textLength="39.7" lengthAdjust="spacingAndGlyphs">Adult (P90)</text>
<text x="573" y="587.6" font-size="7.8" font-weight="bold" fill="#111" text-anchor="start" textLength="39.5" lengthAdjust="spacingAndGlyphs">Adult (P90)</text>
<rect x="372.1" y="690.2" width="10.3" height="14.4" fill="url(#ptb)"/>
<rect x="385.7" y="640.52" width="10.3" height="64.08" fill="url(#ptg)"/>
<rect x="399.3" y="632.6" width="10.3" height="72" fill="url(#ptr)"/>
<rect x="432.8" y="693.8" width="10.3" height="10.8" fill="url(#ptb)"/>
<rect x="446.4" y="685.16" width="10.3" height="19.44" fill="url(#ptg)"/>
<rect x="460" y="632.6" width="10.3" height="72" fill="url(#ptr)"/>
<line x1="369" y1="632.6" x2="475.8" y2="632.6" stroke="#7a7a7a" stroke-width="1.5" stroke-dasharray="1 1.05"/>
<path d="M377.25,690.2 L377.25,689.12 M374.37,689.12 L380.13,689.12" stroke="#7a7af5" stroke-width="0.7" opacity="0.75" fill="none"/>
<path d="M373.07,691.26 L376.28,691.26 L374.68,694.06 Z" fill="#1c1cf5"/>
<path d="M378.53,690.72 L381.73,690.72 L380.13,693.52 Z" fill="#1c1cf5"/>
<path d="M376.16,685.5 L379.37,685.5 L377.76,688.3 Z" fill="#1c1cf5"/>
<path d="M374.62,688.56 L377.82,688.56 L376.22,691.36 Z" fill="#1c1cf5"/>
<path d="M377.71,686.22 L380.91,686.22 L379.31,689.02 Z" fill="#1c1cf5"/>
<path d="M372.56,689.28 L375.76,689.28 L374.16,692.08 Z" fill="#1c1cf5"/>
<path d="M390.85,640.52 L390.85,639.12 M387.97,639.12 L393.73,639.12" stroke="#7cde7c" stroke-width="0.7" opacity="0.75" fill="none"/>
<circle cx="389.82" cy="639.94" r="1.4" fill="#10b010"/>
<circle cx="392.91" cy="636.2" r="1.4" fill="#10b010"/>
<circle cx="387.76" cy="641.1" r="1.4" fill="#10b010"/>
<circle cx="392.4" cy="645.99" r="1.4" fill="#10b010"/>
<circle cx="387.76" cy="637.64" r="1.4" fill="#10b010"/>
<circle cx="393.94" cy="638.79" r="1.4" fill="#10b010"/>
<path d="M404.45,632.6 L404.45,630.95 M401.57,630.95 L407.33,630.95" stroke="#ff7c7c" stroke-width="0.7" opacity="0.75" fill="none"/>
<path d="M404.4,640.72 L407.6,640.72 L406,637.92 Z" fill="#f01010"/>
<path d="M399.76,630.28 L402.96,630.28 L401.36,627.48 Z" fill="#f01010"/>
<path d="M405.94,631.72 L409.14,631.72 L407.54,628.92 Z" fill="#f01010"/>
<path d="M402.85,635.68 L406.05,635.68 L404.45,632.88 Z" fill="#f01010"/>
<path d="M400.28,638.56 L403.48,638.56 L401.88,635.76 Z" fill="#f01010"/>
<path d="M405.73,637.48 L408.93,637.48 L407.33,634.68 Z" fill="#f01010"/>
<path d="M437.95,693.8 L437.95,692.53 M435.07,692.53 L440.83,692.53" stroke="#7a7af5" stroke-width="0.7" opacity="0.75" fill="none"/>
<path d="M436.35,694.14 L439.55,694.14 L437.95,696.94 Z" fill="#1c1cf5"/>
<path d="M433.78,696.73 L436.98,696.73 L435.38,699.53 Z" fill="#1c1cf5"/>
<path d="M439.23,695.76 L442.43,695.76 L440.83,698.56 Z" fill="#1c1cf5"/>
<path d="M436.87,686.36 L440.07,686.36 L438.47,689.16 Z" fill="#1c1cf5"/>
<path d="M435.32,691.87 L438.52,691.87 L436.92,694.67 Z" fill="#1c1cf5"/>
<path d="M438.41,687.66 L441.61,687.66 L440.01,690.46 Z" fill="#1c1cf5"/>
<path d="M433.26,693.17 L436.46,693.17 L434.86,695.97 Z" fill="#1c1cf5"/>
<path d="M437.9,698.68 L441.1,698.68 L439.5,701.48 Z" fill="#1c1cf5"/>
<path d="M433.26,689.28 L436.46,689.28 L434.86,692.08 Z" fill="#1c1cf5"/>
<path d="M439.44,690.58 L442.64,690.58 L441.04,693.38 Z" fill="#1c1cf5"/>
<path d="M451.55,685.16 L451.55,683.34 M448.67,683.34 L454.43,683.34" stroke="#7cde7c" stroke-width="0.7" opacity="0.75" fill="none"/>
<circle cx="452.07" cy="679" r="1.4" fill="#10b010"/>
<circle cx="450.52" cy="684.51" r="1.4" fill="#10b010"/>
<circle cx="453.61" cy="680.3" r="1.4" fill="#10b010"/>
<circle cx="448.46" cy="685.81" r="1.4" fill="#10b010"/>
<circle cx="453.1" cy="691.32" r="1.4" fill="#10b010"/>
<circle cx="448.46" cy="681.92" r="1.4" fill="#10b010"/>
<path d="M465.15,632.6 L465.15,630.48 M462.27,630.48 L468.03,630.48" stroke="#ff7c7c" stroke-width="0.7" opacity="0.75" fill="none"/>
<path d="M460.46,634.96 L463.66,634.96 L462.06,632.16 Z" fill="#f01010"/>
<path d="M465.09,644.14 L468.3,644.14 L466.69,641.34 Z" fill="#f01010"/>
<path d="M460.46,628.48 L463.66,628.48 L462.06,625.68 Z" fill="#f01010"/>
<path d="M466.64,630.64 L469.84,630.64 L468.24,627.84 Z" fill="#f01010"/>
<path d="M463.55,636.58 L466.75,636.58 L465.15,633.78 Z" fill="#f01010"/>
<path d="M460.97,640.9 L464.18,640.9 L462.57,638.1 Z" fill="#f01010"/>
<path d="M466.43,639.28 L469.63,639.28 L468.03,636.48 Z" fill="#f01010"/>
<path d="M464.06,623.62 L467.26,623.62 L465.66,620.82 Z" fill="#f01010"/>
<path d="M462.52,632.8 L465.72,632.8 L464.12,630 Z" fill="#f01010"/>
<path d="M465.61,625.78 L468.81,625.78 L467.21,622.98 Z" fill="#f01010"/>
<path d="M367.2,596.6 L367.2,704.6 L475.8,704.6" fill="none" stroke="#222" stroke-width="1"/>
<line x1="364.2" y1="704.6" x2="367.2" y2="704.6" stroke="#222" stroke-width="0.8"/>
<text x="363.9" y="707.05" font-size="5.9" font-weight="bold" fill="#111" text-anchor="end" textLength="3.13" lengthAdjust="spacingAndGlyphs">0</text>
<line x1="364.2" y1="668.6" x2="367.2" y2="668.6" stroke="#222" stroke-width="0.8"/>
<text x="363.9" y="671.05" font-size="5.9" font-weight="bold" fill="#111" text-anchor="end" textLength="6.25" lengthAdjust="spacingAndGlyphs">50</text>
<line x1="364.2" y1="632.6" x2="367.2" y2="632.6" stroke="#222" stroke-width="0.8"/>
<text x="363.9" y="635.05" font-size="5.9" font-weight="bold" fill="#111" text-anchor="end" textLength="9.38" lengthAdjust="spacingAndGlyphs">100</text>
<line x1="364.2" y1="596.6" x2="367.2" y2="596.6" stroke="#222" stroke-width="0.8"/>
<text x="363.9" y="599.05" font-size="5.9" font-weight="bold" fill="#111" text-anchor="end" textLength="9.38" lengthAdjust="spacingAndGlyphs">150</text>
<line x1="390.8" y1="704.6" x2="390.8" y2="707.1" stroke="#222" stroke-width="0.8"/>
<text x="390.8" y="714" font-size="5.5" font-weight="bold" fill="#111" text-anchor="middle">1 Month</text>
<line x1="451.5" y1="704.6" x2="451.5" y2="707.1" stroke="#222" stroke-width="0.8"/>
<text x="451.5" y="714" font-size="5.5" font-weight="bold" fill="#111" text-anchor="middle">5 Month</text>
<text transform="translate(345.7,649.7) rotate(-90)" font-size="7" font-weight="bold" fill="#111" text-anchor="middle">% of vehicle control</text>
<line x1="389.6" y1="614.7" x2="400.7" y2="614.7" stroke="#555" stroke-width="1"/>
<text x="395.15" y="614.1" font-size="4.6" fill="#666" text-anchor="middle">n.s.</text>
<line x1="450.4" y1="614.7" x2="465.5" y2="614.7" stroke="#555" stroke-width="1"/>
<text x="457.95" y="615.4" font-size="4.6" fill="#666" text-anchor="middle">****</text>
<rect x="549.8" y="690.13" width="10" height="14.17" fill="url(#ptb)"/>
<rect x="563.1" y="636.97" width="10" height="67.33" fill="url(#ptg)"/>
<rect x="576.4" y="632.72" width="10" height="71.58" fill="url(#ptr)"/>
<rect x="610" y="688.71" width="10" height="15.59" fill="url(#ptb)"/>
<rect x="623.3" y="681.62" width="10" height="22.68" fill="url(#ptg)"/>
<rect x="636.6" y="633.43" width="10" height="70.87" fill="url(#ptr)"/>
<line x1="546" y1="633.43" x2="652.9" y2="633.43" stroke="#7a7a7a" stroke-width="1.5" stroke-dasharray="1 1.05"/>
<path d="M554.8,690.13 L554.8,689.06 M552,689.06 L557.6,689.06" stroke="#7a7af5" stroke-width="0.7" opacity="0.75" fill="none"/>
<path d="M556.2,687.78 L559.4,687.78 L557.8,690.58 Z" fill="#1c1cf5"/>
<path d="M553.2,689.73 L556.4,689.73 L554.8,692.53 Z" fill="#1c1cf5"/>
<path d="M550.7,691.15 L553.9,691.15 L552.3,693.95 Z" fill="#1c1cf5"/>
<path d="M556,690.62 L559.2,690.62 L557.6,693.42 Z" fill="#1c1cf5"/>
<path d="M553.7,685.48 L556.9,685.48 L555.3,688.28 Z" fill="#1c1cf5"/>
<path d="M552.2,688.49 L555.4,688.49 L553.8,691.29 Z" fill="#1c1cf5"/>
<path d="M568.1,636.97 L568.1,633.83 M565.3,633.83 L570.9,633.83" stroke="#7cde7c" stroke-width="0.7" opacity="0.75" fill="none"/>
<circle cx="570.9" cy="642.29" r="1.4" fill="#10b010"/>
<circle cx="568.6" cy="626.87" r="1.4" fill="#10b010"/>
<circle cx="567.1" cy="635.91" r="1.4" fill="#10b010"/>
<circle cx="570.1" cy="629" r="1.4" fill="#10b010"/>
<circle cx="565.1" cy="638.04" r="1.4" fill="#10b010"/>
<circle cx="569.6" cy="647.07" r="1.4" fill="#10b010"/>
<path d="M581.4,632.72 L581.4,631.66 M578.6,631.66 L584.2,631.66" stroke="#ff7c7c" stroke-width="0.7" opacity="0.75" fill="none"/>
<path d="M581.8,630.81 L585,630.81 L583.4,628.01 Z" fill="#f01010"/>
<path d="M576.8,634.43 L580,634.43 L578.4,631.63 Z" fill="#f01010"/>
<path d="M581.3,638.04 L584.5,638.04 L582.9,635.24 Z" fill="#f01010"/>
<path d="M576.8,631.88 L580,631.88 L578.4,629.08 Z" fill="#f01010"/>
<path d="M582.8,632.73 L586,632.73 L584.4,629.93 Z" fill="#f01010"/>
<path d="M579.8,635.06 L583,635.06 L581.4,632.26 Z" fill="#f01010"/>
<path d="M615,688.71 L615,687.65 M612.2,687.65 L617.8,687.65" stroke="#7a7af5" stroke-width="0.7" opacity="0.75" fill="none"/>
<path d="M610.4,685.66 L613.6,685.66 L612,688.46 Z" fill="#1c1cf5"/>
<path d="M616.4,686.37 L619.6,686.37 L618,689.17 Z" fill="#1c1cf5"/>
<path d="M613.4,688.31 L616.6,688.31 L615,691.11 Z" fill="#1c1cf5"/>
<path d="M610.9,689.73 L614.1,689.73 L612.5,692.53 Z" fill="#1c1cf5"/>
<path d="M616.2,689.2 L619.4,689.2 L617.8,692 Z" fill="#1c1cf5"/>
<path d="M613.9,684.06 L617.1,684.06 L615.5,686.86 Z" fill="#1c1cf5"/>
<path d="M612.4,687.07 L615.6,687.07 L614,689.87 Z" fill="#1c1cf5"/>
<path d="M615.4,684.77 L618.6,684.77 L617,687.57 Z" fill="#1c1cf5"/>
<path d="M628.3,681.62 L628.3,679.93 M625.5,679.93 L631.1,679.93" stroke="#7cde7c" stroke-width="0.7" opacity="0.75" fill="none"/>
<circle cx="625.8" cy="685.77" r="1.4" fill="#10b010"/>
<circle cx="631.1" cy="684.81" r="1.4" fill="#10b010"/>
<circle cx="628.8" cy="675.56" r="1.4" fill="#10b010"/>
<circle cx="627.3" cy="680.98" r="1.4" fill="#10b010"/>
<circle cx="630.3" cy="676.84" r="1.4" fill="#10b010"/>
<circle cx="625.3" cy="682.26" r="1.4" fill="#10b010"/>
<path d="M641.6,633.43 L641.6,630.53 M638.8,630.53 L644.4,630.53" stroke="#ff7c7c" stroke-width="0.7" opacity="0.75" fill="none"/>
<path d="M639,633.15 L642.2,633.15 L640.6,630.35 Z" fill="#f01010"/>
<path d="M642,623.02 L645.2,623.02 L643.6,620.22 Z" fill="#f01010"/>
<path d="M637,636.27 L640.2,636.27 L638.6,633.47 Z" fill="#f01010"/>
<path d="M641.5,649.52 L644.7,649.52 L643.1,646.72 Z" fill="#f01010"/>
<path d="M637,626.91 L640.2,626.91 L638.6,624.11 Z" fill="#f01010"/>
<path d="M643,630.03 L646.2,630.03 L644.6,627.23 Z" fill="#f01010"/>
<path d="M640,638.61 L643.2,638.61 L641.6,635.81 Z" fill="#f01010"/>
<path d="M637.5,644.84 L640.7,644.84 L639.1,642.04 Z" fill="#f01010"/>
<path d="M642.8,642.51 L646,642.51 L644.4,639.71 Z" fill="#f01010"/>
<path d="M544.3,598 L544.3,704.3 L652.9,704.3" fill="none" stroke="#222" stroke-width="1"/>
<line x1="541.3" y1="704.3" x2="544.3" y2="704.3" stroke="#222" stroke-width="0.8"/>
<text x="541" y="706.75" font-size="5.9" font-weight="bold" fill="#111" text-anchor="end" textLength="3.13" lengthAdjust="spacingAndGlyphs">0</text>
<line x1="541.3" y1="668.87" x2="544.3" y2="668.87" stroke="#222" stroke-width="0.8"/>
<text x="541" y="671.32" font-size="5.9" font-weight="bold" fill="#111" text-anchor="end" textLength="6.25" lengthAdjust="spacingAndGlyphs">50</text>
<line x1="541.3" y1="633.43" x2="544.3" y2="633.43" stroke="#222" stroke-width="0.8"/>
<text x="541" y="635.88" font-size="5.9" font-weight="bold" fill="#111" text-anchor="end" textLength="9.38" lengthAdjust="spacingAndGlyphs">100</text>
<line x1="541.3" y1="598" x2="544.3" y2="598" stroke="#222" stroke-width="0.8"/>
<text x="541" y="600.45" font-size="5.9" font-weight="bold" fill="#111" text-anchor="end" textLength="9.38" lengthAdjust="spacingAndGlyphs">150</text>
<line x1="568.2" y1="704.3" x2="568.2" y2="706.8" stroke="#222" stroke-width="0.8"/>
<text x="568.2" y="714" font-size="5.5" font-weight="bold" fill="#111" text-anchor="middle">1 Month</text>
<line x1="628.5" y1="704.3" x2="628.5" y2="706.8" stroke="#222" stroke-width="0.8"/>
<text x="628.5" y="714" font-size="5.5" font-weight="bold" fill="#111" text-anchor="middle">5 Month</text>
<text transform="translate(524.1,649.7) rotate(-90)" font-size="7" font-weight="bold" fill="#111" text-anchor="middle">% of vehicle control</text>
<line x1="567.6" y1="616.1" x2="582.8" y2="616.1" stroke="#555" stroke-width="1"/>
<text x="575.2" y="615.5" font-size="4.6" fill="#666" text-anchor="middle">n.s.</text>
<line x1="628.6" y1="603.6" x2="644.1" y2="603.6" stroke="#555" stroke-width="1"/>
<text x="636.35" y="604.3" font-size="4.6" fill="#666" text-anchor="middle">****</text>
<path d="M142.9,767.8 L154.3,767.8 L148.6,779 Z" fill="#1010f0"/>
<text x="160.5" y="777.2" font-size="15.4" fill="#2b2ba6" text-anchor="start" textLength="59.4" lengthAdjust="spacingAndGlyphs">Wildtype</text>
<path d="M233.7,779 L245.4,779 L239.55,767.8 Z" fill="#f01010"/>
<text x="249.6" y="770.7" font-size="14.6" fill="#c9232b" text-anchor="start" textLength="78.4" lengthAdjust="spacingAndGlyphs">MPS I or VII</text>
<text x="260.2" y="785" font-size="14.6" fill="#c9232b" text-anchor="start" textLength="57.8" lengthAdjust="spacingAndGlyphs">+ vehicle</text>
<circle cx="346" cy="773.4" r="5.6" fill="#11bb11"/>
<text x="354.2" y="765.2" font-size="14.6" fill="#26a226" text-anchor="start" textLength="78.9" lengthAdjust="spacingAndGlyphs">MPS I or VII</text>
<text x="369.3" y="778" font-size="13.9" fill="#26a226" text-anchor="start" textLength="48.6" lengthAdjust="spacingAndGlyphs">+ MG01</text>
<text x="370.4" y="788.7" font-size="9.6" fill="#26a226" text-anchor="start" textLength="47" lengthAdjust="spacingAndGlyphs">(high dose)</text>
<rect x="446.8" y="768.5" width="10.7" height="10.1" fill="#b014e8"/>
<text x="462.7" y="765.2" font-size="14.6" fill="#9a27b8" text-anchor="start" textLength="78.9" lengthAdjust="spacingAndGlyphs">MPS I or VII</text>
<text x="477.4" y="778" font-size="13.9" fill="#9a27b8" text-anchor="start" textLength="48.6" lengthAdjust="spacingAndGlyphs">+ MG01</text>
<text x="480.5" y="788.7" font-size="9.6" fill="#9a27b8" text-anchor="start" textLength="43.8" lengthAdjust="spacingAndGlyphs">(low dose)</text>
</svg></body></html>
